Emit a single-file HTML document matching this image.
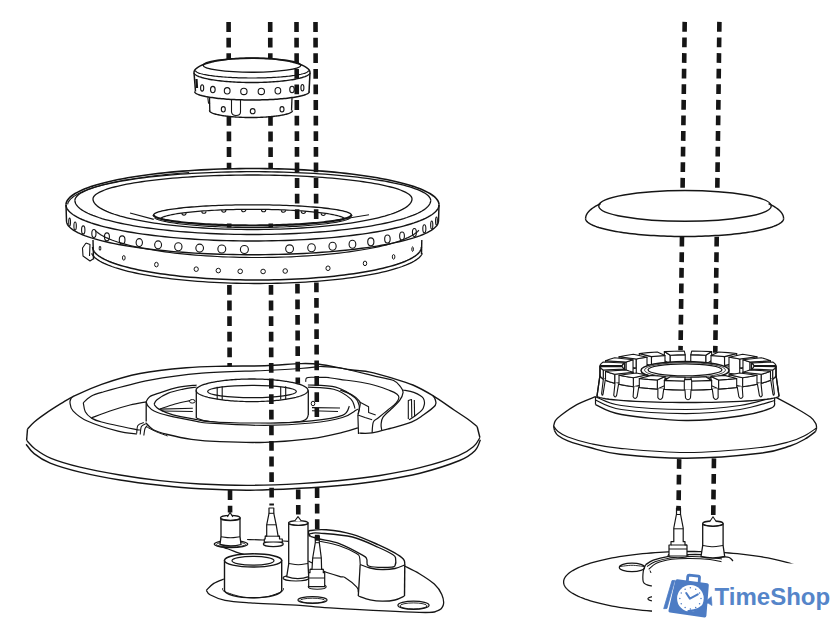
<!DOCTYPE html>
<html><head><meta charset="utf-8"><style>
html,body{margin:0;padding:0;background:#fff;}
body{width:840px;height:637px;overflow:hidden;position:relative;}
svg{position:absolute;left:0;top:0;}
.logo{position:absolute;font-family:"Liberation Sans",sans-serif;}
</style></head><body>
<svg width="840" height="637" viewBox="0 0 840 637" stroke-linecap="butt">
<path d="M194.00,72.50 L194.04,71.99 L194.14,71.49 L194.32,70.98 L194.56,70.48 L194.88,69.98 L195.27,69.49 L195.72,68.99 L196.25,68.50 L196.84,68.02 L197.50,67.54 L198.22,67.07 L199.01,66.60 L199.87,66.14 L200.79,65.69 L201.77,65.25 L202.81,64.82 L203.92,64.39 L205.08,63.98 L206.30,63.57 L207.57,63.18 L208.90,62.80 L210.28,62.43 L211.71,62.07 L213.19,61.72 L214.72,61.39 L216.29,61.07 L217.91,60.77 L219.57,60.48 L221.26,60.20 L223.00,59.94 L224.77,59.70 L226.57,59.47 L228.41,59.25 L230.27,59.06 L232.16,58.87 L234.08,58.71 L236.01,58.56 L237.97,58.43 L239.94,58.32 L241.93,58.22 L243.93,58.14 L245.94,58.08 L247.95,58.04 L249.98,58.01 L252.00,58.00 L254.02,58.01 L256.05,58.04 L258.06,58.08 L260.07,58.14 L262.07,58.22 L264.06,58.32 L266.03,58.43 L267.99,58.56 L269.92,58.71 L271.84,58.87 L273.73,59.06 L275.59,59.25 L277.43,59.47 L279.23,59.70 L281.00,59.94 L282.74,60.20 L284.43,60.48 L286.09,60.77 L287.71,61.07 L289.28,61.39 L290.81,61.72 L292.29,62.07 L293.72,62.43 L295.10,62.80 L296.43,63.18 L297.70,63.57 L298.92,63.98 L300.08,64.39 L301.19,64.82 L302.23,65.25 L303.21,65.69 L304.13,66.14 L304.99,66.60 L305.78,67.07 L306.50,67.54 L307.16,68.02 L307.75,68.50 L308.28,68.99 L308.73,69.49 L309.12,69.98 L309.44,70.48 L309.68,70.98 L309.86,71.49 L309.96,71.99 L310.00,72.50 L310.00,72.50 L309.00,92.00 L309.30,91.50 L309.27,91.80 L309.16,92.09 L308.99,92.39 L308.74,92.68 L308.43,92.98 L308.05,93.27 L307.60,93.56 L307.08,93.84 L306.50,94.13 L305.84,94.41 L305.13,94.68 L304.35,94.96 L303.50,95.23 L302.59,95.49 L301.62,95.75 L300.59,96.00 L299.50,96.25 L298.36,96.50 L297.15,96.73 L295.89,96.96 L294.58,97.19 L293.22,97.40 L291.80,97.61 L290.34,97.82 L288.83,98.01 L287.28,98.20 L285.68,98.38 L284.04,98.55 L282.36,98.71 L280.65,98.86 L278.90,99.01 L277.12,99.14 L275.31,99.27 L273.46,99.38 L271.60,99.49 L269.71,99.58 L267.79,99.67 L265.86,99.75 L263.91,99.81 L261.95,99.87 L259.97,99.92 L257.99,99.95 L256.00,99.98 L254.00,99.99 L252.00,100.00 L250.00,99.99 L248.00,99.98 L246.01,99.95 L244.03,99.92 L242.05,99.87 L240.09,99.81 L238.14,99.75 L236.21,99.67 L234.29,99.58 L232.40,99.49 L230.54,99.38 L228.69,99.27 L226.88,99.14 L225.10,99.01 L223.35,98.86 L221.64,98.71 L219.96,98.55 L218.32,98.38 L216.72,98.20 L215.17,98.01 L213.66,97.82 L212.20,97.61 L210.78,97.40 L209.42,97.19 L208.11,96.96 L206.85,96.73 L205.64,96.50 L204.50,96.25 L203.41,96.00 L202.38,95.75 L201.41,95.49 L200.50,95.23 L199.65,94.96 L198.87,94.68 L198.16,94.41 L197.50,94.13 L196.92,93.84 L196.40,93.56 L195.95,93.27 L195.57,92.98 L195.26,92.68 L195.01,92.39 L194.84,92.09 L194.73,91.80 L194.70,91.50 L195.50,91.50 L194.00,72.50 Z" fill="#fff" stroke="none"/>
<path d="M209.50,96.00 L292.00,96.00 L292.50,110.50 L292.47,110.74 L292.40,110.99 L292.27,111.23 L292.10,111.47 L291.87,111.72 L291.59,111.96 L291.27,112.19 L290.89,112.43 L290.47,112.66 L290.00,112.89 L289.48,113.12 L288.91,113.35 L288.30,113.57 L287.64,113.79 L286.94,114.00 L286.19,114.21 L285.41,114.41 L284.57,114.61 L283.70,114.81 L282.79,115.00 L281.84,115.18 L280.85,115.36 L279.83,115.54 L278.77,115.70 L277.68,115.86 L276.55,116.02 L275.39,116.16 L274.21,116.30 L272.99,116.44 L271.75,116.56 L270.48,116.68 L269.19,116.79 L267.88,116.89 L266.55,116.99 L265.19,117.08 L263.82,117.16 L262.44,117.23 L261.04,117.29 L259.63,117.35 L258.21,117.39 L256.78,117.43 L255.34,117.46 L253.89,117.48 L252.45,117.50 L251.00,117.50 L249.55,117.50 L248.11,117.48 L246.66,117.46 L245.22,117.43 L243.79,117.39 L242.37,117.35 L240.96,117.29 L239.56,117.23 L238.18,117.16 L236.81,117.08 L235.45,116.99 L234.12,116.89 L232.81,116.79 L231.52,116.68 L230.25,116.56 L229.01,116.44 L227.79,116.30 L226.61,116.16 L225.45,116.02 L224.32,115.86 L223.23,115.70 L222.17,115.54 L221.15,115.36 L220.16,115.18 L219.21,115.00 L218.30,114.81 L217.43,114.61 L216.59,114.41 L215.81,114.21 L215.06,114.00 L214.36,113.79 L213.70,113.57 L213.09,113.35 L212.52,113.12 L212.00,112.89 L211.53,112.66 L211.11,112.43 L210.73,112.19 L210.41,111.96 L210.13,111.72 L209.90,111.47 L209.73,111.23 L209.60,110.99 L209.53,110.74 L209.50,110.50 Z" fill="#fff" stroke="none"/>
<path d="M194.00,72.50 L194.04,71.99 L194.14,71.49 L194.32,70.98 L194.56,70.48 L194.88,69.98 L195.27,69.49 L195.72,68.99 L196.25,68.50 L196.84,68.02 L197.50,67.54 L198.22,67.07 L199.01,66.60 L199.87,66.14 L200.79,65.69 L201.77,65.25 L202.81,64.82 L203.92,64.39 L205.08,63.98 L206.30,63.57 L207.57,63.18 L208.90,62.80 L210.28,62.43 L211.71,62.07 L213.19,61.72 L214.72,61.39 L216.29,61.07 L217.91,60.77 L219.57,60.48 L221.26,60.20 L223.00,59.94 L224.77,59.70 L226.57,59.47 L228.41,59.25 L230.27,59.06 L232.16,58.87 L234.08,58.71 L236.01,58.56 L237.97,58.43 L239.94,58.32 L241.93,58.22 L243.93,58.14 L245.94,58.08 L247.95,58.04 L249.98,58.01 L252.00,58.00 L254.02,58.01 L256.05,58.04 L258.06,58.08 L260.07,58.14 L262.07,58.22 L264.06,58.32 L266.03,58.43 L267.99,58.56 L269.92,58.71 L271.84,58.87 L273.73,59.06 L275.59,59.25 L277.43,59.47 L279.23,59.70 L281.00,59.94 L282.74,60.20 L284.43,60.48 L286.09,60.77 L287.71,61.07 L289.28,61.39 L290.81,61.72 L292.29,62.07 L293.72,62.43 L295.10,62.80 L296.43,63.18 L297.70,63.57 L298.92,63.98 L300.08,64.39 L301.19,64.82 L302.23,65.25 L303.21,65.69 L304.13,66.14 L304.99,66.60 L305.78,67.07 L306.50,67.54 L307.16,68.02 L307.75,68.50 L308.28,68.99 L308.73,69.49 L309.12,69.98 L309.44,70.48 L309.68,70.98 L309.86,71.49 L309.96,71.99 L310.00,72.50" fill="none" stroke="#151515" stroke-width="1.5" />
<ellipse cx="252" cy="65.2" rx="48.8" ry="7" fill="none" stroke="#151515" stroke-width="1.4"/>
<path d="M308.50,70.50 L308.47,70.76 L308.36,71.02 L308.19,71.28 L307.95,71.54 L307.64,71.80 L307.27,72.06 L306.82,72.31 L306.31,72.57 L305.73,72.82 L305.09,73.07 L304.39,73.31 L303.62,73.55 L302.78,73.79 L301.89,74.02 L300.93,74.25 L299.91,74.47 L298.84,74.69 L297.71,74.91 L296.52,75.12 L295.28,75.32 L293.99,75.52 L292.64,75.71 L291.25,75.90 L289.81,76.07 L288.32,76.25 L286.78,76.41 L285.21,76.57 L283.59,76.72 L281.94,76.86 L280.25,77.00 L278.53,77.12 L276.77,77.24 L274.98,77.35 L273.17,77.45 L271.32,77.55 L269.46,77.63 L267.57,77.71 L265.67,77.78 L263.75,77.84 L261.81,77.89 L259.86,77.93 L257.91,77.96 L255.94,77.98 L253.97,78.00 L252.00,78.00 L250.03,78.00 L248.06,77.98 L246.09,77.96 L244.14,77.93 L242.19,77.89 L240.25,77.84 L238.33,77.78 L236.43,77.71 L234.54,77.63 L232.68,77.55 L230.83,77.45 L229.02,77.35 L227.23,77.24 L225.47,77.12 L223.75,77.00 L222.06,76.86 L220.41,76.72 L218.79,76.57 L217.22,76.41 L215.68,76.25 L214.19,76.07 L212.75,75.90 L211.36,75.71 L210.01,75.52 L208.72,75.32 L207.48,75.12 L206.29,74.91 L205.16,74.69 L204.09,74.47 L203.07,74.25 L202.11,74.02 L201.22,73.79 L200.38,73.55 L199.61,73.31 L198.91,73.07 L198.27,72.82 L197.69,72.57 L197.18,72.31 L196.73,72.06 L196.36,71.80 L196.05,71.54 L195.81,71.28 L195.64,71.02 L195.53,70.76 L195.50,70.50" fill="none" stroke="#151515" stroke-width="1.2" />
<path d="M310.00,72.50 L309.96,72.85 L309.86,73.20 L309.68,73.55 L309.44,73.89 L309.12,74.24 L308.73,74.58 L308.28,74.92 L307.75,75.26 L307.16,75.59 L306.50,75.92 L305.78,76.25 L304.99,76.57 L304.13,76.88 L303.21,77.19 L302.23,77.50 L301.19,77.80 L300.08,78.09 L298.92,78.38 L297.70,78.66 L296.43,78.93 L295.10,79.19 L293.72,79.45 L292.29,79.69 L290.81,79.93 L289.28,80.16 L287.71,80.38 L286.09,80.59 L284.43,80.79 L282.74,80.98 L281.00,81.16 L279.23,81.33 L277.43,81.49 L275.59,81.64 L273.73,81.77 L271.84,81.90 L269.92,82.01 L267.99,82.11 L266.03,82.20 L264.06,82.28 L262.07,82.35 L260.07,82.40 L258.06,82.45 L256.05,82.48 L254.02,82.49 L252.00,82.50 L249.98,82.49 L247.95,82.48 L245.94,82.45 L243.93,82.40 L241.93,82.35 L239.94,82.28 L237.97,82.20 L236.01,82.11 L234.08,82.01 L232.16,81.90 L230.27,81.77 L228.41,81.64 L226.57,81.49 L224.77,81.33 L223.00,81.16 L221.26,80.98 L219.57,80.79 L217.91,80.59 L216.29,80.38 L214.72,80.16 L213.19,79.93 L211.71,79.69 L210.28,79.45 L208.90,79.19 L207.57,78.93 L206.30,78.66 L205.08,78.38 L203.92,78.09 L202.81,77.80 L201.77,77.50 L200.79,77.19 L199.87,76.88 L199.01,76.57 L198.22,76.25 L197.50,75.92 L196.84,75.59 L196.25,75.26 L195.72,74.92 L195.27,74.58 L194.88,74.24 L194.56,73.89 L194.32,73.55 L194.14,73.20 L194.04,72.85 L194.00,72.50" fill="none" stroke="#151515" stroke-width="1.4" />
<line x1="194" y1="72.5" x2="195.5" y2="91.5" stroke="#151515" stroke-width="1.5"/>
<line x1="310" y1="72.5" x2="309" y2="92.5" stroke="#151515" stroke-width="1.5"/>
<line x1="196.5" y1="79" x2="197" y2="88" stroke="#151515" stroke-width="2.2"/>
<path d="M309.30,91.50 L309.27,91.80 L309.16,92.09 L308.99,92.39 L308.74,92.68 L308.43,92.98 L308.05,93.27 L307.60,93.56 L307.08,93.84 L306.50,94.13 L305.84,94.41 L305.13,94.68 L304.35,94.96 L303.50,95.23 L302.59,95.49 L301.62,95.75 L300.59,96.00 L299.50,96.25 L298.36,96.50 L297.15,96.73 L295.89,96.96 L294.58,97.19 L293.22,97.40 L291.80,97.61 L290.34,97.82 L288.83,98.01 L287.28,98.20 L285.68,98.38 L284.04,98.55 L282.36,98.71 L280.65,98.86 L278.90,99.01 L277.12,99.14 L275.31,99.27 L273.46,99.38 L271.60,99.49 L269.71,99.58 L267.79,99.67 L265.86,99.75 L263.91,99.81 L261.95,99.87 L259.97,99.92 L257.99,99.95 L256.00,99.98 L254.00,99.99 L252.00,100.00 L250.00,99.99 L248.00,99.98 L246.01,99.95 L244.03,99.92 L242.05,99.87 L240.09,99.81 L238.14,99.75 L236.21,99.67 L234.29,99.58 L232.40,99.49 L230.54,99.38 L228.69,99.27 L226.88,99.14 L225.10,99.01 L223.35,98.86 L221.64,98.71 L219.96,98.55 L218.32,98.38 L216.72,98.20 L215.17,98.01 L213.66,97.82 L212.20,97.61 L210.78,97.40 L209.42,97.19 L208.11,96.96 L206.85,96.73 L205.64,96.50 L204.50,96.25 L203.41,96.00 L202.38,95.75 L201.41,95.49 L200.50,95.23 L199.65,94.96 L198.87,94.68 L198.16,94.41 L197.50,94.13 L196.92,93.84 L196.40,93.56 L195.95,93.27 L195.57,92.98 L195.26,92.68 L195.01,92.39 L194.84,92.09 L194.73,91.80 L194.70,91.50" fill="none" stroke="#151515" stroke-width="1.5" />
<ellipse cx="202.15" cy="87.89" rx="1.55" ry="3.2" fill="none" stroke="#151515" stroke-width="1.1"/>
<ellipse cx="212.84" cy="89.59" rx="2.33" ry="3.2" fill="none" stroke="#151515" stroke-width="1.1"/>
<ellipse cx="227.19" cy="90.8" rx="2.88" ry="3.2" fill="none" stroke="#151515" stroke-width="1.1"/>
<ellipse cx="243.87" cy="91.43" rx="3.17" ry="3.2" fill="none" stroke="#151515" stroke-width="1.1"/>
<ellipse cx="261.31" cy="91.41" rx="3.16" ry="3.2" fill="none" stroke="#151515" stroke-width="1.1"/>
<ellipse cx="277.88" cy="90.74" rx="2.85" ry="3.2" fill="none" stroke="#151515" stroke-width="1.1"/>
<ellipse cx="292.02" cy="89.48" rx="2.28" ry="3.2" fill="none" stroke="#151515" stroke-width="1.1"/>
<ellipse cx="302.42" cy="87.76" rx="1.49" ry="3.2" fill="none" stroke="#151515" stroke-width="1.1"/>
<line x1="209.5" y1="98" x2="209.8" y2="111.5" stroke="#151515" stroke-width="1.3"/>
<line x1="292" y1="98" x2="291.5" y2="110.5" stroke="#151515" stroke-width="1.3"/>
<path d="M292.50,110.50 L292.47,110.74 L292.40,110.99 L292.27,111.23 L292.10,111.47 L291.87,111.72 L291.59,111.96 L291.27,112.19 L290.89,112.43 L290.47,112.66 L290.00,112.89 L289.48,113.12 L288.91,113.35 L288.30,113.57 L287.64,113.79 L286.94,114.00 L286.19,114.21 L285.41,114.41 L284.57,114.61 L283.70,114.81 L282.79,115.00 L281.84,115.18 L280.85,115.36 L279.83,115.54 L278.77,115.70 L277.68,115.86 L276.55,116.02 L275.39,116.16 L274.21,116.30 L272.99,116.44 L271.75,116.56 L270.48,116.68 L269.19,116.79 L267.88,116.89 L266.55,116.99 L265.19,117.08 L263.82,117.16 L262.44,117.23 L261.04,117.29 L259.63,117.35 L258.21,117.39 L256.78,117.43 L255.34,117.46 L253.89,117.48 L252.45,117.50 L251.00,117.50 L249.55,117.50 L248.11,117.48 L246.66,117.46 L245.22,117.43 L243.79,117.39 L242.37,117.35 L240.96,117.29 L239.56,117.23 L238.18,117.16 L236.81,117.08 L235.45,116.99 L234.12,116.89 L232.81,116.79 L231.52,116.68 L230.25,116.56 L229.01,116.44 L227.79,116.30 L226.61,116.16 L225.45,116.02 L224.32,115.86 L223.23,115.70 L222.17,115.54 L221.15,115.36 L220.16,115.18 L219.21,115.00 L218.30,114.81 L217.43,114.61 L216.59,114.41 L215.81,114.21 L215.06,114.00 L214.36,113.79 L213.70,113.57 L213.09,113.35 L212.52,113.12 L212.00,112.89 L211.53,112.66 L211.11,112.43 L210.73,112.19 L210.41,111.96 L210.13,111.72 L209.90,111.47 L209.73,111.23 L209.60,110.99 L209.53,110.74 L209.50,110.50" fill="none" stroke="#151515" stroke-width="1.4" />
<ellipse cx="223.3" cy="109.3" rx="2" ry="2.7" fill="none" stroke="#151515" stroke-width="1.1"/>
<ellipse cx="252.7" cy="111.2" rx="2.4" ry="2.6" fill="none" stroke="#151515" stroke-width="1.1"/>
<ellipse cx="282" cy="109.3" rx="2" ry="2.7" fill="none" stroke="#151515" stroke-width="1.1"/>
<path d="M231.5,100 L231.5,112 Q232,115.5 236,115.5 Q240.5,115.5 240.5,112 L240.5,100" fill="none" stroke="#151515" stroke-width="1.1" stroke-linejoin="round" />
<path d="M207.8,97.5 L208.5,103 L210,104" fill="none" stroke="#151515" stroke-width="1.1" stroke-linejoin="round" />
<path d="M66.00,204.75 L66.11,203.48 L66.45,202.22 L67.02,200.96 L67.82,199.70 L68.83,198.46 L70.08,197.21 L71.54,195.98 L73.22,194.76 L75.13,193.55 L77.25,192.35 L79.58,191.17 L82.12,190.01 L84.87,188.86 L87.83,187.73 L90.99,186.62 L94.34,185.54 L97.88,184.48 L101.62,183.44 L105.54,182.43 L109.63,181.45 L113.90,180.49 L118.34,179.57 L122.95,178.67 L127.71,177.81 L132.62,176.98 L137.68,176.18 L142.88,175.42 L148.21,174.70 L153.67,174.01 L159.25,173.36 L164.94,172.74 L170.74,172.17 L176.64,171.63 L182.64,171.14 L188.71,170.69 L194.87,170.27 L201.09,169.90 L207.38,169.58 L213.72,169.29 L220.11,169.05 L226.54,168.85 L233.01,168.70 L239.49,168.59 L245.99,168.52 L252.50,168.50 L259.01,168.52 L265.51,168.59 L271.99,168.70 L278.46,168.85 L284.89,169.05 L291.28,169.29 L297.62,169.58 L303.91,169.90 L310.13,170.27 L316.29,170.69 L322.36,171.14 L328.36,171.63 L334.26,172.17 L340.06,172.74 L345.75,173.36 L351.33,174.01 L356.79,174.70 L362.12,175.42 L367.32,176.18 L372.38,176.98 L377.29,177.81 L382.05,178.67 L386.66,179.57 L391.10,180.49 L395.37,181.45 L399.46,182.43 L403.38,183.44 L407.12,184.48 L410.66,185.54 L414.01,186.62 L417.17,187.73 L420.13,188.86 L422.88,190.01 L425.42,191.17 L427.75,192.35 L429.87,193.55 L431.78,194.76 L433.46,195.98 L434.92,197.21 L436.17,198.46 L437.18,199.70 L437.98,200.96 L438.55,202.22 L438.89,203.48 L439.00,204.75 L439.00,205.00 L439.00,221.00 L438.50,221.00 L438.39,222.18 L438.05,223.35 L437.48,224.53 L436.69,225.70 L435.67,226.86 L434.44,228.02 L432.98,229.16 L431.29,230.30 L429.40,231.43 L427.28,232.54 L424.96,233.64 L422.42,234.73 L419.68,235.80 L416.73,236.84 L413.58,237.88 L410.24,238.88 L406.70,239.87 L402.98,240.84 L399.07,241.78 L394.98,242.69 L390.72,243.58 L386.30,244.44 L381.71,245.28 L376.96,246.08 L372.06,246.85 L367.01,247.60 L361.83,248.30 L356.51,248.98 L351.06,249.62 L345.50,250.23 L339.82,250.80 L334.04,251.33 L328.15,251.83 L322.18,252.29 L316.12,252.71 L309.98,253.10 L303.77,253.44 L297.50,253.75 L291.17,254.01 L284.80,254.24 L278.39,254.42 L271.94,254.57 L265.47,254.67 L258.99,254.73 L252.50,254.75 L421.40,247.00 L421.30,248.15 L421.00,249.30 L420.50,250.45 L419.80,251.59 L418.90,252.73 L417.81,253.86 L416.52,254.98 L415.03,256.10 L413.35,257.20 L411.49,258.29 L409.43,259.36 L407.19,260.42 L404.76,261.47 L402.16,262.49 L399.37,263.50 L396.42,264.49 L393.29,265.45 L390.00,266.40 L386.55,267.32 L382.94,268.21 L379.17,269.08 L375.26,269.92 L371.20,270.74 L367.01,271.52 L362.67,272.28 L358.21,273.00 L353.63,273.70 L348.93,274.36 L344.12,274.99 L339.20,275.58 L334.18,276.14 L329.07,276.66 L323.87,277.15 L318.59,277.60 L313.23,278.01 L307.80,278.38 L302.31,278.72 L296.77,279.02 L291.18,279.28 L285.55,279.50 L279.88,279.68 L274.18,279.82 L268.47,279.92 L262.74,279.98 L257.00,280.00 L251.26,279.98 L245.53,279.92 L239.82,279.82 L234.12,279.68 L228.45,279.50 L222.82,279.28 L217.23,279.02 L211.69,278.72 L206.20,278.38 L200.77,278.01 L195.41,277.60 L190.13,277.15 L184.93,276.66 L179.82,276.14 L174.80,275.58 L169.88,274.99 L165.07,274.36 L160.37,273.70 L155.79,273.00 L151.33,272.28 L146.99,271.52 L142.80,270.74 L138.74,269.92 L134.83,269.08 L131.06,268.21 L127.45,267.32 L124.00,266.40 L120.71,265.45 L117.58,264.49 L114.63,263.50 L111.84,262.49 L109.24,261.47 L106.81,260.42 L104.57,259.36 L102.51,258.29 L100.65,257.20 L98.97,256.10 L97.48,254.98 L96.19,253.86 L95.10,252.73 L94.20,251.59 L93.50,250.45 L93.00,249.30 L92.70,248.15 L92.60,247.00 L252.50,254.75 L246.01,254.73 L239.53,254.67 L233.06,254.57 L226.61,254.42 L220.20,254.24 L213.83,254.01 L207.50,253.75 L201.23,253.44 L195.02,253.10 L188.88,252.71 L182.82,252.29 L176.85,251.83 L170.96,251.33 L165.18,250.80 L159.50,250.23 L153.94,249.62 L148.49,248.98 L143.17,248.30 L137.99,247.60 L132.94,246.85 L128.04,246.08 L123.29,245.28 L118.70,244.44 L114.28,243.58 L110.02,242.69 L105.93,241.78 L102.02,240.84 L98.30,239.87 L94.76,238.88 L91.42,237.88 L88.27,236.84 L85.32,235.80 L82.58,234.73 L80.04,233.64 L77.72,232.54 L75.60,231.43 L73.71,230.30 L72.02,229.16 L70.56,228.02 L69.33,226.86 L68.31,225.70 L67.52,224.53 L66.95,223.35 L66.61,222.18 L66.50,221.00 L66.00,221.00 Z" fill="#fff" stroke="none"/>
<path d="M66.00,204.75 L66.11,203.48 L66.45,202.22 L67.02,200.96 L67.82,199.70 L68.83,198.46 L70.08,197.21 L71.54,195.98 L73.22,194.76 L75.13,193.55 L77.25,192.35 L79.58,191.17 L82.12,190.01 L84.87,188.86 L87.83,187.73 L90.99,186.62 L94.34,185.54 L97.88,184.48 L101.62,183.44 L105.54,182.43 L109.63,181.45 L113.90,180.49 L118.34,179.57 L122.95,178.67 L127.71,177.81 L132.62,176.98 L137.68,176.18 L142.88,175.42 L148.21,174.70 L153.67,174.01 L159.25,173.36 L164.94,172.74 L170.74,172.17 L176.64,171.63 L182.64,171.14 L188.71,170.69 L194.87,170.27 L201.09,169.90 L207.38,169.58 L213.72,169.29 L220.11,169.05 L226.54,168.85 L233.01,168.70 L239.49,168.59 L245.99,168.52 L252.50,168.50 L259.01,168.52 L265.51,168.59 L271.99,168.70 L278.46,168.85 L284.89,169.05 L291.28,169.29 L297.62,169.58 L303.91,169.90 L310.13,170.27 L316.29,170.69 L322.36,171.14 L328.36,171.63 L334.26,172.17 L340.06,172.74 L345.75,173.36 L351.33,174.01 L356.79,174.70 L362.12,175.42 L367.32,176.18 L372.38,176.98 L377.29,177.81 L382.05,178.67 L386.66,179.57 L391.10,180.49 L395.37,181.45 L399.46,182.43 L403.38,183.44 L407.12,184.48 L410.66,185.54 L414.01,186.62 L417.17,187.73 L420.13,188.86 L422.88,190.01 L425.42,191.17 L427.75,192.35 L429.87,193.55 L431.78,194.76 L433.46,195.98 L434.92,197.21 L436.17,198.46 L437.18,199.70 L437.98,200.96 L438.55,202.22 L438.89,203.48 L439.00,204.75" fill="none" stroke="#151515" stroke-width="1.6" />
<path d="M439.00,204.75 L438.89,206.02 L438.55,207.28 L437.98,208.54 L437.18,209.80 L436.17,211.04 L434.92,212.29 L433.46,213.52 L431.78,214.74 L429.87,215.95 L427.75,217.15 L425.42,218.33 L422.88,219.49 L420.13,220.64 L417.17,221.77 L414.01,222.88 L410.66,223.96 L407.12,225.02 L403.38,226.06 L399.46,227.07 L395.37,228.05 L391.10,229.01 L386.66,229.93 L382.05,230.83 L377.29,231.69 L372.38,232.52 L367.32,233.32 L362.12,234.08 L356.79,234.80 L351.33,235.49 L345.75,236.14 L340.06,236.76 L334.26,237.33 L328.36,237.87 L322.36,238.36 L316.29,238.81 L310.13,239.23 L303.91,239.60 L297.62,239.92 L291.28,240.21 L284.89,240.45 L278.46,240.65 L271.99,240.80 L265.51,240.91 L259.01,240.98 L252.50,241.00 L245.99,240.98 L239.49,240.91 L233.01,240.80 L226.54,240.65 L220.11,240.45 L213.72,240.21 L207.38,239.92 L201.09,239.60 L194.87,239.23 L188.71,238.81 L182.64,238.36 L176.64,237.87 L170.74,237.33 L164.94,236.76 L159.25,236.14 L153.67,235.49 L148.21,234.80 L142.88,234.08 L137.68,233.32 L132.62,232.52 L127.71,231.69 L122.95,230.83 L118.34,229.93 L113.90,229.01 L109.63,228.05 L105.54,227.07 L101.62,226.06 L97.88,225.02 L94.34,223.96 L90.99,222.88 L87.83,221.77 L84.87,220.64 L82.12,219.49 L79.58,218.33 L77.25,217.15 L75.13,215.95 L73.22,214.74 L71.54,213.52 L70.08,212.29 L68.83,211.04 L67.82,209.80 L67.02,208.54 L66.45,207.28 L66.11,206.02 L66.00,204.75" fill="none" stroke="#151515" stroke-width="1.4" />
<path d="M67.61,204.28 L67.95,203.06 L68.51,201.84 L69.30,200.63 L70.31,199.42 L71.54,198.22 L73.00,197.03 L74.67,195.85 L76.55,194.68 L78.66,193.53 L80.97,192.39 L83.49,191.26 L86.22,190.16 L89.15,189.07 L92.29,188.00 L95.61,186.95 L99.13,185.93 L102.83,184.93 L106.72,183.95 L110.78,183.00 L115.02,182.08 L119.42,181.19 L123.99,180.32 L128.71,179.49 L133.58,178.69 L138.60,177.92 L143.76,177.18 L149.05,176.48 L154.46,175.82 L160.00,175.19 L165.65,174.60 L171.40,174.04 L177.25,173.53 L183.20,173.05 L189.23,172.61" fill="none" stroke="#151515" stroke-width="1.1" />
<path d="M74.90,200.50 L75.01,199.49 L75.33,198.49 L75.87,197.49 L76.63,196.49 L77.60,195.50 L78.79,194.51 L80.18,193.53 L81.79,192.56 L83.61,191.60 L85.63,190.65 L87.85,189.71 L90.28,188.79 L92.90,187.87 L95.72,186.98 L98.73,186.10 L101.93,185.24 L105.31,184.40 L108.88,183.57 L112.61,182.77 L116.52,181.99 L120.59,181.23 L124.83,180.49 L129.22,179.78 L133.76,179.10 L138.45,178.44 L143.27,177.81 L148.23,177.20 L153.32,176.62 L158.53,176.08 L163.85,175.56 L169.28,175.07 L174.81,174.61 L180.44,174.19 L186.16,173.80 L191.95,173.44 L197.83,173.11 L203.76,172.82 L209.76,172.56 L215.81,172.33 L221.91,172.14 L228.04,171.98 L234.20,171.86 L240.39,171.77 L246.59,171.72 L252.80,171.70 L259.01,171.72 L265.21,171.77 L271.40,171.86 L277.56,171.98 L283.69,172.14 L289.79,172.33 L295.84,172.56 L301.84,172.82 L307.77,173.11 L313.65,173.44 L319.44,173.80 L325.16,174.19 L330.79,174.61 L336.32,175.07 L341.75,175.56 L347.07,176.08 L352.28,176.62 L357.37,177.20 L362.33,177.81 L367.15,178.44 L371.84,179.10 L376.38,179.78 L380.77,180.49 L385.01,181.23 L389.08,181.99 L392.99,182.77 L396.72,183.57 L400.29,184.40 L403.67,185.24 L406.87,186.10 L409.88,186.98 L412.70,187.87 L415.32,188.79 L417.75,189.71 L419.97,190.65 L421.99,191.60 L423.81,192.56 L425.42,193.53 L426.81,194.51 L428.00,195.50 L428.97,196.49 L429.73,197.49 L430.27,198.49 L430.59,199.49 L430.70,200.50" fill="none" stroke="#151515" stroke-width="1.3" />
<path d="M430.70,200.50 L430.59,201.69 L430.27,202.87 L429.73,204.05 L428.97,205.23 L428.00,206.40 L426.81,207.57 L425.42,208.73 L423.81,209.87 L421.99,211.01 L419.97,212.13 L417.75,213.24 L415.32,214.33 L412.70,215.40 L409.88,216.46 L406.87,217.50 L403.67,218.52 L400.29,219.51 L396.72,220.48 L392.99,221.43 L389.08,222.35 L385.01,223.25 L380.77,224.12 L376.38,224.96 L371.84,225.77 L367.15,226.55 L362.33,227.29 L357.37,228.01 L352.28,228.69 L347.07,229.33 L341.75,229.94 L336.32,230.52 L330.79,231.06 L325.16,231.56 L319.44,232.02 L313.65,232.45 L307.77,232.84 L301.84,233.18 L295.84,233.49 L289.79,233.76 L283.69,233.98 L277.56,234.17 L271.40,234.31 L265.21,234.42 L259.01,234.48 L252.80,234.50 L246.59,234.48 L240.39,234.42 L234.20,234.31 L228.04,234.17 L221.91,233.98 L215.81,233.76 L209.76,233.49 L203.76,233.18 L197.83,232.84 L191.95,232.45 L186.16,232.02 L180.44,231.56 L174.81,231.06 L169.28,230.52 L163.85,229.94 L158.53,229.33 L153.32,228.69 L148.23,228.01 L143.27,227.29 L138.45,226.55 L133.76,225.77 L129.22,224.96 L124.83,224.12 L120.59,223.25 L116.52,222.35 L112.61,221.43 L108.88,220.48 L105.31,219.51 L101.93,218.52 L98.73,217.50 L95.72,216.46 L92.90,215.40 L90.28,214.33 L87.85,213.24 L85.63,212.13 L83.61,211.01 L81.79,209.87 L80.18,208.73 L78.79,207.57 L77.60,206.40 L76.63,205.23 L75.87,204.05 L75.33,202.87 L75.01,201.69 L74.90,200.50" fill="none" stroke="#151515" stroke-width="1.3" />
<path d="M93.00,199.00 L93.10,198.16 L93.39,197.33 L93.87,196.49 L94.55,195.66 L95.42,194.83 L96.49,194.01 L97.74,193.19 L99.18,192.38 L100.81,191.58 L102.62,190.79 L104.61,190.01 L106.79,189.24 L109.14,188.48 L111.67,187.73 L114.37,187.00 L117.24,186.28 L120.27,185.58 L123.46,184.89 L126.81,184.22 L130.32,183.57 L133.97,182.94 L137.77,182.33 L141.70,181.74 L145.77,181.16 L149.98,180.61 L154.30,180.09 L158.75,179.58 L163.31,179.10 L167.98,178.65 L172.75,178.22 L177.62,177.81 L182.58,177.43 L187.63,177.07 L192.75,176.75 L197.95,176.45 L203.21,176.17 L208.54,175.93 L213.91,175.71 L219.34,175.52 L224.80,175.36 L230.30,175.23 L235.83,175.13 L241.37,175.06 L246.93,175.01 L252.50,175.00 L258.07,175.01 L263.63,175.06 L269.17,175.13 L274.70,175.23 L280.20,175.36 L285.66,175.52 L291.09,175.71 L296.46,175.93 L301.79,176.17 L307.05,176.45 L312.25,176.75 L317.37,177.07 L322.42,177.43 L327.38,177.81 L332.25,178.22 L337.02,178.65 L341.69,179.10 L346.25,179.58 L350.70,180.09 L355.02,180.61 L359.23,181.16 L363.30,181.74 L367.23,182.33 L371.03,182.94 L374.68,183.57 L378.19,184.22 L381.54,184.89 L384.73,185.58 L387.76,186.28 L390.63,187.00 L393.33,187.73 L395.86,188.48 L398.21,189.24 L400.39,190.01 L402.38,190.79 L404.19,191.58 L405.82,192.38 L407.26,193.19 L408.51,194.01 L409.58,194.83 L410.45,195.66 L411.13,196.49 L411.61,197.33 L411.90,198.16 L412.00,199.00" fill="none" stroke="#151515" stroke-width="1.3" />
<path d="M412.00,199.00 L411.90,200.06 L411.61,201.13 L411.13,202.19 L410.45,203.24 L409.58,204.30 L408.51,205.34 L407.26,206.38 L405.82,207.41 L404.19,208.43 L402.38,209.43 L400.39,210.43 L398.21,211.41 L395.86,212.37 L393.33,213.32 L390.63,214.25 L387.76,215.16 L384.73,216.06 L381.54,216.93 L378.19,217.78 L374.68,218.61 L371.03,219.41 L367.23,220.19 L363.30,220.94 L359.23,221.67 L355.02,222.36 L350.70,223.03 L346.25,223.68 L341.69,224.29 L337.02,224.87 L332.25,225.41 L327.38,225.93 L322.42,226.41 L317.37,226.86 L312.25,227.28 L307.05,227.66 L301.79,228.01 L296.46,228.32 L291.09,228.59 L285.66,228.83 L280.20,229.04 L274.70,229.20 L269.17,229.33 L263.63,229.43 L258.07,229.48 L252.50,229.50 L246.93,229.48 L241.37,229.43 L235.83,229.33 L230.30,229.20 L224.80,229.04 L219.34,228.83 L213.91,228.59 L208.54,228.32 L203.21,228.01 L197.95,227.66 L192.75,227.28 L187.63,226.86 L182.58,226.41 L177.62,225.93 L172.75,225.41 L167.98,224.87 L163.31,224.29 L158.75,223.68 L154.30,223.03 L149.98,222.36 L145.77,221.67 L141.70,220.94 L137.77,220.19 L133.97,219.41 L130.32,218.61 L126.81,217.78 L123.46,216.93 L120.27,216.06 L117.24,215.16 L114.37,214.25 L111.67,213.32 L109.14,212.37 L106.79,211.41 L104.61,210.43 L102.62,209.43 L100.81,208.43 L99.18,207.41 L97.74,206.38 L96.49,205.34 L95.42,204.30 L94.55,203.24 L93.87,202.19 L93.39,201.13 L93.10,200.06 L93.00,199.00" fill="none" stroke="#151515" stroke-width="1.3" />
<path d="M153.50,215.20 L153.56,214.84 L153.74,214.47 L154.04,214.11 L154.46,213.75 L155.00,213.39 L155.66,213.04 L156.44,212.68 L157.34,212.33 L158.35,211.99 L159.47,211.64 L160.71,211.30 L162.06,210.97 L163.52,210.64 L165.09,210.32 L166.76,210.00 L168.54,209.69 L170.43,209.38 L172.41,209.09 L174.49,208.80 L176.66,208.52 L178.93,208.24 L181.29,207.98 L183.73,207.72 L186.26,207.47 L188.86,207.23 L191.55,207.00 L194.31,206.79 L197.14,206.58 L200.04,206.38 L203.00,206.19 L206.02,206.02 L209.10,205.85 L212.23,205.70 L215.41,205.56 L218.64,205.43 L221.91,205.31 L225.21,205.20 L228.55,205.11 L231.92,205.03 L235.31,204.96 L238.72,204.90 L242.15,204.86 L245.59,204.83 L249.04,204.81 L252.50,204.80 L255.96,204.81 L259.41,204.83 L262.85,204.86 L266.28,204.90 L269.69,204.96 L273.08,205.03 L276.45,205.11 L279.79,205.20 L283.09,205.31 L286.36,205.43 L289.59,205.56 L292.77,205.70 L295.90,205.85 L298.98,206.02 L302.00,206.19 L304.96,206.38 L307.86,206.58 L310.69,206.79 L313.45,207.00 L316.14,207.23 L318.74,207.47 L321.27,207.72 L323.71,207.98 L326.07,208.24 L328.34,208.52 L330.51,208.80 L332.59,209.09 L334.57,209.38 L336.46,209.69 L338.24,210.00 L339.91,210.32 L341.48,210.64 L342.94,210.97 L344.29,211.30 L345.53,211.64 L346.65,211.99 L347.66,212.33 L348.56,212.68 L349.34,213.04 L350.00,213.39 L350.54,213.75 L350.96,214.11 L351.26,214.47 L351.44,214.84 L351.50,215.20" fill="none" stroke="#151515" stroke-width="1.3" />
<path d="M160.91,218.14 L161.53,217.78 L162.26,217.41 L163.10,217.05 L164.05,216.69 L165.11,216.34 L166.27,215.99 L167.54,215.65 L168.91,215.31 L170.39,214.98 L171.96,214.65 L173.63,214.33 L175.40,214.02 L177.26,213.71 L179.21,213.41 L181.26,213.12 L183.39,212.84 L185.60,212.57 L187.90,212.30 L190.27,212.05 L192.72,211.80 L195.24,211.57 L197.84,211.34 L200.50,211.13 L203.22,210.93 L206.00,210.73 L208.84,210.55 L211.73,210.38 L214.67,210.23 L217.66,210.08 L220.69,209.95 L223.76,209.82 L226.87,209.71 L230.00,209.62 L233.16,209.53 L236.35,209.46 L239.56,209.40 L242.78,209.36 L246.01,209.33 L249.25,209.31 L252.50,209.30 L255.75,209.31 L258.99,209.33 L262.22,209.36 L265.44,209.40 L268.65,209.46 L271.84,209.53 L275.00,209.62 L278.13,209.71 L281.24,209.82 L284.31,209.95 L287.34,210.08 L290.33,210.23 L293.27,210.38 L296.16,210.55 L299.00,210.73 L301.78,210.93 L304.50,211.13 L307.16,211.34 L309.76,211.57 L312.28,211.80 L314.73,212.05 L317.10,212.30 L319.40,212.57 L321.61,212.84 L323.74,213.12 L325.79,213.41 L327.74,213.71 L329.60,214.02 L331.37,214.33 L333.04,214.65 L334.61,214.98 L336.09,215.31 L337.46,215.65 L338.73,215.99 L339.89,216.34 L340.95,216.69 L341.90,217.05 L342.74,217.41 L343.47,217.78 L344.09,218.14" fill="none" stroke="#151515" stroke-width="1.2" />
<path d="M351.50,214.75 L351.44,215.13 L351.26,215.50 L350.96,215.87 L350.54,216.25 L350.00,216.62 L349.34,216.99 L348.56,217.35 L347.66,217.71 L346.65,218.07 L345.53,218.43 L344.29,218.78 L342.94,219.12 L341.48,219.46 L339.91,219.80 L338.24,220.12 L336.46,220.45 L334.57,220.76 L332.59,221.07 L330.51,221.37 L328.34,221.66 L326.07,221.94 L323.71,222.22 L321.27,222.48 L318.74,222.74 L316.14,222.98 L313.45,223.22 L310.69,223.45 L307.86,223.66 L304.96,223.87 L302.00,224.06 L298.98,224.24 L295.90,224.41 L292.77,224.57 L289.59,224.72 L286.36,224.85 L283.09,224.97 L279.79,225.08 L276.45,225.18 L273.08,225.27 L269.69,225.34 L266.28,225.40 L262.85,225.44 L259.41,225.47 L255.96,225.49 L252.50,225.50 L249.04,225.49 L245.59,225.47 L242.15,225.44 L238.72,225.40 L235.31,225.34 L231.92,225.27 L228.55,225.18 L225.21,225.08 L221.91,224.97 L218.64,224.85 L215.41,224.72 L212.23,224.57 L209.10,224.41 L206.02,224.24 L203.00,224.06 L200.04,223.87 L197.14,223.66 L194.31,223.45 L191.55,223.22 L188.86,222.98 L186.26,222.74 L183.73,222.48 L181.29,222.22 L178.93,221.94 L176.66,221.66 L174.49,221.37 L172.41,221.07 L170.43,220.76 L168.54,220.45 L166.76,220.12 L165.09,219.80 L163.52,219.46 L162.06,219.12 L160.71,218.78 L159.47,218.43 L158.35,218.07 L157.34,217.71 L156.44,217.35 L155.66,216.99 L155.00,216.62 L154.46,216.25 L154.04,215.87 L153.74,215.50 L153.56,215.13 L153.50,214.75" fill="none" stroke="#151515" stroke-width="2.2" />
<path d="M350.49,218.00 L349.83,218.39 L349.04,218.78 L348.15,219.17 L347.13,219.55 L346.00,219.93 L344.75,220.31 L343.40,220.68 L341.93,221.04 L340.35,221.40 L338.67,221.75 L336.88,222.09 L334.99,222.43 L333.00,222.76 L330.91,223.08 L328.72,223.39 L326.44,223.70 L324.07,223.99 L321.62,224.27 L319.08,224.55 L316.46,224.81 L313.76,225.06 L310.98,225.30 L308.14,225.53 L305.23,225.75 L302.25,225.96 L299.21,226.15 L296.12,226.34 L292.97,226.51 L289.77,226.66 L286.53,226.81 L283.25,226.94 L279.93,227.05 L276.57,227.16 L273.19,227.25 L269.78,227.33 L266.35,227.39 L262.90,227.44 L259.44,227.47 L255.97,227.49 L252.50,227.50 L249.03,227.49 L245.56,227.47 L242.10,227.44 L238.65,227.39 L235.22,227.33 L231.81,227.25 L228.43,227.16 L225.07,227.05 L221.75,226.94 L218.47,226.81 L215.23,226.66 L212.03,226.51 L208.88,226.34 L205.79,226.15 L202.75,225.96 L199.77,225.75 L196.86,225.53 L194.02,225.30 L191.24,225.06 L188.54,224.81 L185.92,224.55 L183.38,224.27 L180.93,223.99 L178.56,223.70 L176.28,223.39 L174.09,223.08 L172.00,222.76 L170.01,222.43 L168.12,222.09 L166.33,221.75 L164.65,221.40 L163.07,221.04 L161.60,220.68 L160.25,220.31 L159.00,219.93 L157.87,219.55 L156.85,219.17 L155.96,218.78 L155.17,218.39 L154.51,218.00" fill="none" stroke="#151515" stroke-width="1.1" />
<path d="M181.90,213.06 A2.1,2.1 0 0 0 186.10,213.06" fill="none" stroke="#151515" stroke-width="1.1" stroke-linejoin="round" />
<path d="M201.80,211.18 A2.1,2.1 0 0 0 206.00,211.18" fill="none" stroke="#151515" stroke-width="1.1" stroke-linejoin="round" />
<path d="M221.70,210.12 A2.1,2.1 0 0 0 225.90,210.12" fill="none" stroke="#151515" stroke-width="1.1" stroke-linejoin="round" />
<path d="M241.60,209.65 A2.1,2.1 0 0 0 245.80,209.65" fill="none" stroke="#151515" stroke-width="1.1" stroke-linejoin="round" />
<path d="M261.50,209.68 A2.1,2.1 0 0 0 265.70,209.68" fill="none" stroke="#151515" stroke-width="1.1" stroke-linejoin="round" />
<path d="M281.40,210.21 A2.1,2.1 0 0 0 285.60,210.21" fill="none" stroke="#151515" stroke-width="1.1" stroke-linejoin="round" />
<path d="M301.30,211.34 A2.1,2.1 0 0 0 305.50,211.34" fill="none" stroke="#151515" stroke-width="1.1" stroke-linejoin="round" />
<path d="M321.20,213.36 A2.1,2.1 0 0 0 325.40,213.36" fill="none" stroke="#151515" stroke-width="1.1" stroke-linejoin="round" />
<line x1="130" y1="213" x2="153.8" y2="219.4" stroke="#151515" stroke-width="1.1"/>
<line x1="347.6" y1="218.3" x2="369" y2="214.8" stroke="#151515" stroke-width="1.1"/>
<line x1="66" y1="205" x2="66.5" y2="221" stroke="#151515" stroke-width="1.5"/>
<line x1="439" y1="205" x2="438.5" y2="221" stroke="#151515" stroke-width="1.5"/>
<path d="M438.50,221.00 L438.39,222.18 L438.05,223.35 L437.48,224.53 L436.69,225.70 L435.67,226.86 L434.44,228.02 L432.98,229.16 L431.29,230.30 L429.40,231.43 L427.28,232.54 L424.96,233.64 L422.42,234.73 L419.68,235.80 L416.73,236.84 L413.58,237.88 L410.24,238.88 L406.70,239.87 L402.98,240.84 L399.07,241.78 L394.98,242.69 L390.72,243.58 L386.30,244.44 L381.71,245.28 L376.96,246.08 L372.06,246.85 L367.01,247.60 L361.83,248.30 L356.51,248.98 L351.06,249.62 L345.50,250.23 L339.82,250.80 L334.04,251.33 L328.15,251.83 L322.18,252.29 L316.12,252.71 L309.98,253.10 L303.77,253.44 L297.50,253.75 L291.17,254.01 L284.80,254.24 L278.39,254.42 L271.94,254.57 L265.47,254.67 L258.99,254.73 L252.50,254.75 L246.01,254.73 L239.53,254.67 L233.06,254.57 L226.61,254.42 L220.20,254.24 L213.83,254.01 L207.50,253.75 L201.23,253.44 L195.02,253.10 L188.88,252.71 L182.82,252.29 L176.85,251.83 L170.96,251.33 L165.18,250.80 L159.50,250.23 L153.94,249.62 L148.49,248.98 L143.17,248.30 L137.99,247.60 L132.94,246.85 L128.04,246.08 L123.29,245.28 L118.70,244.44 L114.28,243.58 L110.02,242.69 L105.93,241.78 L102.02,240.84 L98.30,239.87 L94.76,238.88 L91.42,237.88 L88.27,236.84 L85.32,235.80 L82.58,234.73 L80.04,233.64 L77.72,232.54 L75.60,231.43 L73.71,230.30 L72.02,229.16 L70.56,228.02 L69.33,226.86 L68.31,225.70 L67.52,224.53 L66.95,223.35 L66.61,222.18 L66.50,221.00" fill="none" stroke="#151515" stroke-width="1.4" />
<ellipse cx="69.61" cy="222.1" rx="0.9" ry="4.0" fill="none" stroke="#151515" stroke-width="1.1"/>
<ellipse cx="75.11" cy="226.07" rx="1.2" ry="4.0" fill="none" stroke="#151515" stroke-width="1.1"/>
<ellipse cx="83.25" cy="229.89" rx="1.66" ry="4.0" fill="none" stroke="#151515" stroke-width="1.1"/>
<ellipse cx="93.91" cy="233.5" rx="2.09" ry="4.0" fill="none" stroke="#151515" stroke-width="1.1"/>
<ellipse cx="106.93" cy="236.85" rx="2.49" ry="4.0" fill="none" stroke="#151515" stroke-width="1.1"/>
<ellipse cx="122.13" cy="239.89" rx="2.85" ry="4.0" fill="none" stroke="#151515" stroke-width="1.1"/>
<ellipse cx="139.27" cy="242.58" rx="3.17" ry="4.0" fill="none" stroke="#151515" stroke-width="1.1"/>
<ellipse cx="158.1" cy="244.86" rx="3.45" ry="4.0" fill="none" stroke="#151515" stroke-width="1.1"/>
<ellipse cx="178.33" cy="246.72" rx="3.67" ry="4.0" fill="none" stroke="#151515" stroke-width="1.1"/>
<ellipse cx="199.67" cy="248.12" rx="3.84" ry="4.0" fill="none" stroke="#151515" stroke-width="1.1"/>
<ellipse cx="221.8" cy="249.04" rx="3.95" ry="4.0" fill="none" stroke="#151515" stroke-width="1.1"/>
<ellipse cx="244.39" cy="249.47" rx="4.0" ry="4.0" fill="none" stroke="#151515" stroke-width="1.1"/>
<ellipse cx="289.58" cy="248.83" rx="3.92" ry="4.0" fill="none" stroke="#151515" stroke-width="1.1"/>
<ellipse cx="311.52" cy="247.77" rx="3.79" ry="4.0" fill="none" stroke="#151515" stroke-width="1.1"/>
<ellipse cx="332.58" cy="246.24" rx="3.61" ry="4.0" fill="none" stroke="#151515" stroke-width="1.1"/>
<ellipse cx="352.44" cy="244.25" rx="3.37" ry="4.0" fill="none" stroke="#151515" stroke-width="1.1"/>
<ellipse cx="370.81" cy="241.85" rx="3.09" ry="4.0" fill="none" stroke="#151515" stroke-width="1.1"/>
<ellipse cx="387.42" cy="239.06" rx="2.75" ry="4.0" fill="none" stroke="#151515" stroke-width="1.1"/>
<ellipse cx="402.02" cy="235.93" rx="2.38" ry="4.0" fill="none" stroke="#151515" stroke-width="1.1"/>
<ellipse cx="414.39" cy="232.5" rx="1.97" ry="4.0" fill="none" stroke="#151515" stroke-width="1.1"/>
<ellipse cx="424.34" cy="228.82" rx="1.53" ry="4.0" fill="none" stroke="#151515" stroke-width="1.1"/>
<ellipse cx="431.74" cy="224.95" rx="1.07" ry="4.0" fill="none" stroke="#151515" stroke-width="1.1"/>
<ellipse cx="436.46" cy="220.95" rx="0.9" ry="4.0" fill="none" stroke="#151515" stroke-width="1.1"/>
<line x1="93" y1="240" x2="93.5" y2="259.5" stroke="#151515" stroke-width="1.4"/>
<line x1="421.8" y1="240" x2="421.5" y2="254" stroke="#151515" stroke-width="1.4"/>
<path d="M418.90,230.23 L417.81,231.36 L416.52,232.48 L415.03,233.60 L413.35,234.70 L411.49,235.79 L409.43,236.86 L407.19,237.92 L404.76,238.97 L402.16,239.99 L399.37,241.00 L396.42,241.99 L393.29,242.95 L390.00,243.90 L386.55,244.82 L382.94,245.71 L379.17,246.58 L375.26,247.42 L371.20,248.24 L367.01,249.02 L362.67,249.78 L358.21,250.50 L353.63,251.20 L348.93,251.86 L344.12,252.49 L339.20,253.08 L334.18,253.64 L329.07,254.16 L323.87,254.65 L318.59,255.10 L313.23,255.51 L307.80,255.88 L302.31,256.22 L296.77,256.52 L291.18,256.78 L285.55,257.00 L279.88,257.18 L274.18,257.32 L268.47,257.42 L262.74,257.48 L257.00,257.50 L251.26,257.48 L245.53,257.42 L239.82,257.32 L234.12,257.18 L228.45,257.00 L222.82,256.78 L217.23,256.52 L211.69,256.22 L206.20,255.88 L200.77,255.51 L195.41,255.10 L190.13,254.65 L184.93,254.16 L179.82,253.64 L174.80,253.08 L169.88,252.49 L165.07,251.86 L160.37,251.20 L155.79,250.50 L151.33,249.78 L146.99,249.02 L142.80,248.24 L138.74,247.42 L134.83,246.58 L131.06,245.71 L127.45,244.82 L124.00,243.90 L120.71,242.95 L117.58,241.99 L114.63,241.00 L111.84,239.99 L109.24,238.97 L106.81,237.92 L104.57,236.86 L102.51,235.79 L100.65,234.70 L98.97,233.60 L97.48,232.48 L96.19,231.36 L95.10,230.23" fill="none" stroke="#151515" stroke-width="1.2" />
<path d="M421.40,247.00 L421.30,248.15 L421.00,249.30 L420.50,250.45 L419.80,251.59 L418.90,252.73 L417.81,253.86 L416.52,254.98 L415.03,256.10 L413.35,257.20 L411.49,258.29 L409.43,259.36 L407.19,260.42 L404.76,261.47 L402.16,262.49 L399.37,263.50 L396.42,264.49 L393.29,265.45 L390.00,266.40 L386.55,267.32 L382.94,268.21 L379.17,269.08 L375.26,269.92 L371.20,270.74 L367.01,271.52 L362.67,272.28 L358.21,273.00 L353.63,273.70 L348.93,274.36 L344.12,274.99 L339.20,275.58 L334.18,276.14 L329.07,276.66 L323.87,277.15 L318.59,277.60 L313.23,278.01 L307.80,278.38 L302.31,278.72 L296.77,279.02 L291.18,279.28 L285.55,279.50 L279.88,279.68 L274.18,279.82 L268.47,279.92 L262.74,279.98 L257.00,280.00 L251.26,279.98 L245.53,279.92 L239.82,279.82 L234.12,279.68 L228.45,279.50 L222.82,279.28 L217.23,279.02 L211.69,278.72 L206.20,278.38 L200.77,278.01 L195.41,277.60 L190.13,277.15 L184.93,276.66 L179.82,276.14 L174.80,275.58 L169.88,274.99 L165.07,274.36 L160.37,273.70 L155.79,273.00 L151.33,272.28 L146.99,271.52 L142.80,270.74 L138.74,269.92 L134.83,269.08 L131.06,268.21 L127.45,267.32 L124.00,266.40 L120.71,265.45 L117.58,264.49 L114.63,263.50 L111.84,262.49 L109.24,261.47 L106.81,260.42 L104.57,259.36 L102.51,258.29 L100.65,257.20 L98.97,256.10 L97.48,254.98 L96.19,253.86 L95.10,252.73 L94.20,251.59 L93.50,250.45 L93.00,249.30 L92.70,248.15 L92.60,247.00" fill="none" stroke="#151515" stroke-width="1.5" />
<path d="M422.37,253.38 L421.76,254.52 L420.96,255.66 L419.95,256.80 L418.75,257.92 L417.34,259.04 L415.75,260.15 L413.96,261.24 L411.97,262.33 L409.80,263.39 L407.45,264.45 L404.91,265.48 L402.19,266.50 L399.29,267.50 L396.22,268.47 L392.98,269.43 L389.57,270.36 L386.01,271.27 L382.28,272.15 L378.40,273.01 L374.38,273.83 L370.21,274.63 L365.91,275.41 L361.47,276.15 L356.90,276.85 L352.21,277.53 L347.41,278.18 L342.50,278.79 L337.48,279.36 L332.36,279.90 L327.15,280.41 L321.86,280.88 L316.49,281.31 L311.04,281.70 L305.53,282.06 L299.96,282.38 L294.34,282.65 L288.67,282.89 L282.97,283.09 L277.23,283.25 L271.47,283.37 L265.69,283.45 L259.90,283.49 L254.10,283.49 L248.31,283.45 L242.53,283.37 L236.77,283.25 L231.03,283.09 L225.33,282.89 L219.66,282.65 L214.04,282.38 L208.47,282.06 L202.96,281.70 L197.51,281.31 L192.14,280.88 L186.85,280.41 L181.64,279.90 L176.52,279.36 L171.50,278.79 L166.59,278.18 L161.79,277.53 L157.10,276.85 L152.53,276.15 L148.09,275.41 L143.79,274.63 L139.62,273.83 L135.60,273.01 L131.72,272.15 L127.99,271.27 L124.43,270.36 L121.02,269.43 L117.78,268.47 L114.71,267.50 L111.81,266.50 L109.09,265.48 L106.55,264.45 L104.20,263.39 L102.03,262.33 L100.04,261.24 L98.25,260.15 L96.66,259.04 L95.25,257.92 L94.05,256.80 L93.04,255.66 L92.24,254.52 L91.63,253.38" fill="none" stroke="#151515" stroke-width="1.3" />
<ellipse cx="100" cy="248.29" rx="0.8" ry="2.3" fill="none" stroke="#151515" stroke-width="1.0"/>
<ellipse cx="123.8" cy="257.84" rx="1.35" ry="2.3" fill="none" stroke="#151515" stroke-width="1.0"/>
<ellipse cx="156.4" cy="264.6" rx="1.82" ry="2.3" fill="none" stroke="#151515" stroke-width="1.0"/>
<ellipse cx="196.2" cy="269.16" rx="2.14" ry="2.3" fill="none" stroke="#151515" stroke-width="1.0"/>
<ellipse cx="218.3" cy="270.57" rx="2.24" ry="2.3" fill="none" stroke="#151515" stroke-width="1.0"/>
<ellipse cx="240.2" cy="271.33" rx="2.29" ry="2.3" fill="none" stroke="#151515" stroke-width="1.0"/>
<ellipse cx="263.1" cy="271.48" rx="2.3" ry="2.3" fill="none" stroke="#151515" stroke-width="1.0"/>
<ellipse cx="285.2" cy="271.01" rx="2.27" ry="2.3" fill="none" stroke="#151515" stroke-width="1.0"/>
<ellipse cx="328" cy="268.26" rx="2.07" ry="2.3" fill="none" stroke="#151515" stroke-width="1.0"/>
<ellipse cx="365" cy="263.38" rx="1.73" ry="2.3" fill="none" stroke="#151515" stroke-width="1.0"/>
<ellipse cx="393.6" cy="256.86" rx="1.28" ry="2.3" fill="none" stroke="#151515" stroke-width="1.0"/>
<ellipse cx="412.6" cy="249.15" rx="0.8" ry="2.3" fill="none" stroke="#151515" stroke-width="1.0"/>
<path d="M86,243 L82.5,248 L83,256 L90,261 L93,259 M86,243 L90,244.5 L89.5,256" fill="none" stroke="#151515" stroke-width="1.1" stroke-linejoin="round" />
<path d="M27.50,429.10 L34.30,422.00 L46.50,412.90 L60.80,403.70 L73.00,396.50 L101.60,384.30 L140.00,373.50 L186.40,367.70 L223.60,366.20 L265.00,365.80 L300.60,363.60 L319.20,364.30 L350.10,369.70 L370.00,372.10 L391.40,377.90 L412.90,385.00 L432.90,395.70 L454.10,410.00 L467.30,418.80 L477.10,426.50 L479.90,437.50 L480.40,439.70 L480.40,439.70 L474.90,450.70 L459.60,460.50 L420.00,473.20 L380.00,480.70 L340.00,485.50 L300.00,488.30 L250.00,490.20 L200.00,488.80 L160.00,485.30 L120.00,480.00 L80.00,472.10 L50.20,463.10 L34.10,453.60 L26.10,444.20 Z" fill="#fff" stroke="none"/>
<path d="M27.50,429.10 C28.63,427.92 31.13,424.70 34.30,422.00 C37.47,419.30 42.08,415.95 46.50,412.90 C50.92,409.85 56.38,406.43 60.80,403.70 C65.22,400.97 70.97,397.70 73.00,396.50" fill="none" stroke="#151515" stroke-width="1.4" stroke-linejoin="round"/>
<path d="M73.00,396.50 C77.77,394.47 90.43,388.13 101.60,384.30 C112.77,380.47 125.87,376.27 140.00,373.50 C154.13,370.73 172.47,368.92 186.40,367.70 C200.33,366.48 210.50,366.52 223.60,366.20 C236.70,365.88 252.17,366.23 265.00,365.80 C277.83,365.37 291.57,363.85 300.60,363.60 C309.63,363.35 310.95,363.28 319.20,364.30 C327.45,365.32 341.63,368.40 350.10,369.70 C358.57,371.00 363.12,370.73 370.00,372.10 C376.88,373.47 384.25,375.75 391.40,377.90 C398.55,380.05 405.98,382.03 412.90,385.00 C419.82,387.97 426.03,391.53 432.90,395.70 C439.77,399.87 448.37,406.15 454.10,410.00 C459.83,413.85 463.47,416.05 467.30,418.80 C471.13,421.55 475.47,425.22 477.10,426.50" fill="none" stroke="#151515" stroke-width="1.4" stroke-linejoin="round"/>
<path d="M27.50,429.10 L26.60,440.40" fill="none" stroke="#151515" stroke-width="1.4" stroke-linejoin="round"/>
<path d="M477.10,426.50 L479.90,437.50" fill="none" stroke="#151515" stroke-width="1.4" stroke-linejoin="round"/>
<path d="M26.60,440.40 C28.02,441.82 31.02,445.90 35.10,448.90 C39.18,451.90 43.62,455.35 51.10,458.40 C58.58,461.45 68.52,464.43 80.00,467.20 C91.48,469.97 106.67,472.75 120.00,475.00 C133.33,477.25 146.67,479.20 160.00,480.70 C173.33,482.20 185.00,483.23 200.00,484.00 C215.00,484.77 233.33,485.37 250.00,485.30 C266.67,485.23 285.00,484.40 300.00,483.60 C315.00,482.80 326.67,481.85 340.00,480.50 C353.33,479.15 366.67,477.63 380.00,475.50 C393.33,473.37 406.92,471.02 420.00,467.70 C433.08,464.38 449.53,459.17 458.50,455.60 C467.47,452.03 470.23,449.32 473.80,446.30 C477.37,443.28 478.88,438.97 479.90,437.50" fill="none" stroke="#151515" stroke-width="1.3" stroke-linejoin="round"/>
<path d="M26.10,444.20 C27.43,445.77 30.08,450.45 34.10,453.60 C38.12,456.75 42.55,460.02 50.20,463.10 C57.85,466.18 68.37,469.28 80.00,472.10 C91.63,474.92 106.67,477.80 120.00,480.00 C133.33,482.20 146.67,483.83 160.00,485.30 C173.33,486.77 185.00,487.98 200.00,488.80 C215.00,489.62 233.33,490.28 250.00,490.20 C266.67,490.12 285.00,489.08 300.00,488.30 C315.00,487.52 326.67,486.77 340.00,485.50 C353.33,484.23 366.67,482.75 380.00,480.70 C393.33,478.65 406.73,476.57 420.00,473.20 C433.27,469.83 450.45,464.25 459.60,460.50 C468.75,456.75 471.43,454.17 474.90,450.70 C478.37,447.23 479.48,441.53 480.40,439.70" fill="none" stroke="#151515" stroke-width="1.4" stroke-linejoin="round"/>
<path d="M73.00,396.50 C72.67,396.85 71.50,397.57 71.00,398.60 C70.50,399.63 69.67,400.67 70.00,402.70 C70.33,404.73 70.12,407.75 73.00,410.80 C75.88,413.85 79.80,417.60 87.30,421.00 C94.80,424.40 109.72,429.03 118.00,431.20 C126.28,433.37 133.83,433.53 137.00,434.00" fill="none" stroke="#151515" stroke-width="1.2" stroke-linejoin="round"/>
<path d="M83.30,402.70 C84.42,401.75 86.95,398.72 90.00,397.00 C93.05,395.28 91.60,395.20 101.60,392.40 C111.60,389.60 133.28,383.40 150.00,380.20 C166.72,377.00 182.73,374.82 201.90,373.20 C221.07,371.58 248.65,371.28 265.00,370.50 C281.35,369.72 290.83,369.17 300.00,368.50 C309.17,367.83 316.67,366.83 320.00,366.50" fill="none" stroke="#151515" stroke-width="1.2" stroke-linejoin="round"/>
<path d="M83.30,402.70 C83.63,404.22 83.95,409.25 85.30,411.80 C86.65,414.35 88.68,416.30 91.40,418.00 C94.12,419.70 94.45,420.13 101.60,422.00 C108.75,423.87 127.90,427.87 134.30,429.20 C140.70,430.53 139.05,429.87 140.00,430.00" fill="none" stroke="#151515" stroke-width="1.2" stroke-linejoin="round"/>
<path d="M91.40,418.00 C94.50,416.83 103.57,413.17 110.00,411.00 C116.43,408.83 123.97,406.53 130.00,405.00 C136.03,403.47 143.50,402.33 146.20,401.80" fill="none" stroke="#151515" stroke-width="1.2" stroke-linejoin="round"/>
<path d="M146.20,401.80 L146.20,421.40" fill="none" stroke="#151515" stroke-width="1.3" stroke-linejoin="round"/>
<path d="M146.20,401.80 C146.73,400.98 147.28,398.35 149.40,396.90 C151.52,395.45 154.18,394.68 158.90,393.10 C163.62,391.52 171.42,388.73 177.70,387.40 C183.98,386.07 193.45,385.48 196.60,385.10" fill="none" stroke="#151515" stroke-width="1.2" stroke-linejoin="round"/>
<path d="M154.10,404.40 C154.58,403.62 154.63,401.58 157.00,399.70 C159.37,397.82 164.07,394.83 168.30,393.10 C172.53,391.37 177.68,390.32 182.40,389.30 C187.12,388.28 194.23,387.38 196.60,387.00" fill="none" stroke="#151515" stroke-width="1.2" stroke-linejoin="round"/>
<path d="M154.10,404.40 C154.90,405.18 155.75,407.37 158.90,409.10 C162.05,410.83 166.72,413.07 173.00,414.80 C179.28,416.53 190.43,418.38 196.60,419.50 C202.77,420.62 198.60,420.90 210.00,421.50 C221.40,422.10 248.10,423.22 265.00,423.10 C281.90,422.98 298.50,422.08 311.40,420.80 C324.30,419.52 336.07,417.85 342.40,415.40 C348.73,412.95 348.23,407.65 349.40,406.10" fill="none" stroke="#151515" stroke-width="1.2" stroke-linejoin="round"/>
<path d="M146.20,401.80 C146.50,402.50 146.68,404.47 148.00,406.00 C149.32,407.53 150.72,409.38 154.10,411.00 C157.48,412.62 161.22,413.97 168.30,415.70 C175.38,417.43 189.65,420.15 196.60,421.40 C203.55,422.65 198.60,422.53 210.00,423.20 C221.40,423.87 248.10,425.43 265.00,425.40 C281.90,425.37 298.50,424.32 311.40,423.00 C324.30,421.68 334.92,419.67 342.40,417.50 C349.88,415.33 353.72,411.38 356.30,410.00 C358.88,408.62 357.63,409.33 357.90,409.20" fill="none" stroke="#151515" stroke-width="1.2" stroke-linejoin="round"/>
<path d="M145.60,422.60 C146.88,423.80 149.63,427.82 153.30,429.80 C156.97,431.78 161.25,432.92 167.60,434.50 C173.95,436.08 182.67,438.10 191.40,439.30 C200.13,440.50 207.73,441.20 220.00,441.70 C232.27,442.20 249.77,442.82 265.00,442.30 C280.23,441.78 298.50,440.25 311.40,438.60 C324.30,436.95 334.65,434.20 342.40,432.40 C350.15,430.60 355.32,428.57 357.90,427.80" fill="none" stroke="#151515" stroke-width="1.3" stroke-linejoin="round"/>
<path d="M307.90,385.00 C312.53,385.35 327.85,384.95 335.70,387.10 C343.55,389.25 351.07,394.68 355.00,397.90 C358.93,401.12 358.77,403.73 359.30,406.40 C359.83,409.07 358.38,412.65 358.20,413.90" fill="none" stroke="#151515" stroke-width="1.2" stroke-linejoin="round"/>
<path d="M307.90,387.10 C312.18,387.47 326.47,387.33 333.60,389.30 C340.73,391.27 347.13,395.68 350.70,398.90 C354.27,402.12 354.28,406.98 355.00,408.60" fill="none" stroke="#151515" stroke-width="1.1" stroke-linejoin="round"/>
<path d="M159.80,409.10 C162.33,408.25 169.97,405.42 175.00,404.00 C180.03,402.58 187.50,401.17 190.00,400.60" fill="none" stroke="#151515" stroke-width="1.1" stroke-linejoin="round"/>
<path d="M159.80,409.10 L192.80,408.20" fill="none" stroke="#151515" stroke-width="1.1" stroke-linejoin="round"/>
<path d="M161.70,411.00 L192.80,411.50" fill="none" stroke="#151515" stroke-width="1.1" stroke-linejoin="round"/>
<ellipse cx="192.3" cy="401.3" rx="2.8" ry="1.8" fill="none" stroke="#151515" stroke-width="1.0"/>
<path d="M312.00,407.60 L340.00,408.00" fill="none" stroke="#151515" stroke-width="1.1" stroke-linejoin="round"/>
<path d="M312.00,410.70 L338.00,411.50" fill="none" stroke="#151515" stroke-width="1.1" stroke-linejoin="round"/>
<ellipse cx="313" cy="403.5" rx="1.8" ry="2.3" fill="none" stroke="#151515" stroke-width="1.0"/>
<path d="M196.00,390.30 L196.03,389.91 L196.14,389.51 L196.31,389.12 L196.54,388.73 L196.85,388.34 L197.22,387.95 L197.66,387.57 L198.17,387.19 L198.74,386.81 L199.38,386.44 L200.08,386.07 L200.84,385.70 L201.67,385.35 L202.55,384.99 L203.50,384.65 L204.51,384.31 L205.57,383.98 L206.70,383.66 L207.87,383.34 L209.10,383.04 L210.38,382.74 L211.72,382.45 L213.10,382.17 L214.53,381.90 L216.00,381.64 L217.52,381.40 L219.08,381.16 L220.69,380.93 L222.32,380.72 L224.00,380.51 L225.71,380.32 L227.45,380.14 L229.22,379.98 L231.02,379.82 L232.85,379.68 L234.70,379.55 L236.56,379.44 L238.45,379.34 L240.36,379.25 L242.28,379.17 L244.21,379.11 L246.15,379.06 L248.09,379.03 L250.05,379.01 L252.00,379.00 L253.95,379.01 L255.91,379.03 L257.85,379.06 L259.79,379.11 L261.72,379.17 L263.64,379.25 L265.55,379.34 L267.44,379.44 L269.30,379.55 L271.15,379.68 L272.98,379.82 L274.78,379.98 L276.55,380.14 L278.29,380.32 L280.00,380.51 L281.68,380.72 L283.31,380.93 L284.92,381.16 L286.48,381.40 L288.00,381.64 L289.47,381.90 L290.90,382.17 L292.28,382.45 L293.62,382.74 L294.90,383.04 L296.13,383.34 L297.30,383.66 L298.43,383.98 L299.49,384.31 L300.50,384.65 L301.45,384.99 L302.33,385.35 L303.16,385.70 L303.92,386.07 L304.62,386.44 L305.26,386.81 L305.83,387.19 L306.34,387.57 L306.78,387.95 L307.15,388.34 L307.46,388.73 L307.69,389.12 L307.86,389.51 L307.97,389.91 L308.00,390.30 L308.00,413.00 L307.97,413.38 L307.86,413.77 L307.69,414.15 L307.46,414.53 L307.15,414.91 L306.78,415.29 L306.34,415.66 L305.83,416.03 L305.26,416.40 L304.62,416.76 L303.92,417.12 L303.16,417.47 L302.33,417.82 L301.45,418.16 L300.50,418.50 L299.49,418.83 L298.43,419.15 L297.30,419.47 L296.13,419.77 L294.90,420.07 L293.62,420.36 L292.28,420.64 L290.90,420.91 L289.47,421.17 L288.00,421.43 L286.48,421.67 L284.92,421.90 L283.31,422.12 L281.68,422.33 L280.00,422.53 L278.29,422.71 L276.55,422.89 L274.78,423.05 L272.98,423.20 L271.15,423.34 L269.30,423.46 L267.44,423.57 L265.55,423.67 L263.64,423.76 L261.72,423.83 L259.79,423.89 L257.85,423.94 L255.91,423.97 L253.95,423.99 L252.00,424.00 L250.05,423.99 L248.09,423.97 L246.15,423.94 L244.21,423.89 L242.28,423.83 L240.36,423.76 L238.45,423.67 L236.56,423.57 L234.70,423.46 L232.85,423.34 L231.02,423.20 L229.22,423.05 L227.45,422.89 L225.71,422.71 L224.00,422.53 L222.32,422.33 L220.69,422.12 L219.08,421.90 L217.52,421.67 L216.00,421.43 L214.53,421.17 L213.10,420.91 L211.72,420.64 L210.38,420.36 L209.10,420.07 L207.87,419.77 L206.70,419.47 L205.57,419.15 L204.51,418.83 L203.50,418.50 L202.55,418.16 L201.67,417.82 L200.84,417.47 L200.08,417.12 L199.38,416.76 L198.74,416.40 L198.17,416.03 L197.66,415.66 L197.22,415.29 L196.85,414.91 L196.54,414.53 L196.31,414.15 L196.14,413.77 L196.03,413.38 L196.00,413.00 Z" fill="#fff" stroke="none"/>
<path d="M196.30,390.30 C196.29,390.14 196.19,389.54 196.21,389.32 C196.23,389.09 196.34,389.05 196.42,388.92 C196.50,388.79 196.59,388.66 196.69,388.53 C196.79,388.40 196.90,388.27 197.03,388.14 C197.15,388.01 197.29,387.89 197.44,387.76 C197.58,387.63 197.74,387.50 197.91,387.38 C198.08,387.25 198.26,387.12 198.45,387.00 C198.64,386.87 198.84,386.75 199.05,386.62 C199.26,386.50 199.49,386.37 199.72,386.25 C199.95,386.13 200.20,386.01 200.45,385.88 C200.71,385.76 200.97,385.64 201.25,385.52 C201.52,385.41 201.81,385.29 202.10,385.17 C202.40,385.05 202.71,384.94 203.02,384.82 C203.34,384.71 203.66,384.59 204.00,384.48 C204.33,384.37 204.68,384.26 205.03,384.15 C205.39,384.04 205.75,383.93 206.13,383.82 C206.50,383.71 206.88,383.60 207.28,383.50 C207.67,383.39 208.07,383.29 208.48,383.19 C208.89,383.09 209.31,382.99 209.74,382.89 C210.16,382.79 210.60,382.69 211.04,382.59 C211.49,382.50 211.94,382.40 212.40,382.31 C212.86,382.22 213.33,382.13 213.81,382.04 C214.28,381.95 214.77,381.86 215.26,381.77 C215.75,381.69 216.25,381.60 216.76,381.52 C217.26,381.44 217.78,381.35 218.30,381.28 C218.82,381.20 219.35,381.12 219.88,381.04 C220.41,380.97 220.95,380.89 221.50,380.82 C222.05,380.75 222.60,380.68 223.16,380.61 C223.72,380.55 224.28,380.48 224.85,380.42 C225.42,380.35 226.00,380.29 226.58,380.23 C227.16,380.17 227.74,380.11 228.33,380.06 C228.92,380.00 229.52,379.95 230.12,379.90 C230.72,379.85 231.32,379.80 231.93,379.75 C232.54,379.70 233.15,379.66 233.77,379.62 C234.38,379.57 235.00,379.53 235.63,379.49 C236.25,379.46 236.88,379.42 237.51,379.39 C238.14,379.35 238.77,379.32 239.40,379.29 C240.04,379.26 240.68,379.23 241.31,379.21 C241.95,379.18 242.60,379.16 243.24,379.14 C243.88,379.12 244.53,379.10 245.18,379.08 C245.82,379.07 246.47,379.05 247.12,379.04 C247.77,379.03 248.42,379.02 249.07,379.02 C249.72,379.01 250.37,379.00 251.02,379.00 C251.67,379.00 252.33,379.00 252.98,379.00 C253.63,379.00 254.28,379.01 254.93,379.02 C255.58,379.02 256.23,379.03 256.88,379.04 C257.53,379.05 258.18,379.07 258.82,379.08 C259.47,379.10 260.12,379.12 260.76,379.14 C261.40,379.16 262.05,379.18 262.69,379.21 C263.32,379.23 263.96,379.26 264.60,379.29 C265.23,379.32 265.86,379.35 266.49,379.39 C267.12,379.42 267.75,379.46 268.37,379.49 C269.00,379.53 269.62,379.57 270.23,379.62 C270.85,379.66 271.46,379.70 272.07,379.75 C272.68,379.80 273.28,379.85 273.88,379.90 C274.48,379.95 275.08,380.00 275.67,380.06 C276.26,380.11 276.84,380.17 277.42,380.23 C278.00,380.29 278.58,380.35 279.15,380.42 C279.72,380.48 280.28,380.55 280.84,380.61 C281.40,380.68 281.95,380.75 282.50,380.82 C283.05,380.89 283.59,380.97 284.12,381.04 C284.65,381.12 285.18,381.20 285.70,381.28 C286.22,381.35 286.74,381.44 287.24,381.52 C287.75,381.60 288.25,381.69 288.74,381.77 C289.23,381.86 289.72,381.95 290.19,382.04 C290.67,382.13 291.14,382.22 291.60,382.31 C292.06,382.40 292.51,382.50 292.96,382.59 C293.40,382.69 293.84,382.79 294.26,382.89 C294.69,382.99 295.11,383.09 295.52,383.19 C295.93,383.29 296.33,383.39 296.72,383.50 C297.12,383.60 297.50,383.71 297.87,383.82 C298.25,383.93 298.61,384.04 298.97,384.15 C299.32,384.26 299.67,384.37 300.00,384.48 C300.34,384.59 300.66,384.71 300.98,384.82 C301.29,384.94 301.60,385.05 301.90,385.17 C302.19,385.29 302.48,385.41 302.75,385.52 C303.03,385.64 303.29,385.76 303.55,385.88 C303.80,386.01 304.05,386.13 304.28,386.25 C304.51,386.37 304.74,386.50 304.95,386.62 C305.16,386.75 305.36,386.87 305.55,387.00 C305.74,387.12 305.92,387.25 306.09,387.38 C306.26,387.50 306.42,387.63 306.56,387.76 C306.71,387.89 306.85,388.01 306.97,388.14 C307.10,388.27 307.21,388.40 307.31,388.53 C307.41,388.66 307.50,388.79 307.58,388.92 C307.66,389.05 307.72,389.09 307.79,389.32 C307.86,389.54 307.96,390.14 308.00,390.30" fill="none" stroke="#151515" stroke-width="1.3" stroke-linejoin="round"/>
<path d="M308.00,390.30 L307.97,390.69 L307.86,391.09 L307.69,391.48 L307.46,391.87 L307.15,392.26 L306.78,392.65 L306.34,393.03 L305.83,393.41 L305.26,393.79 L304.62,394.16 L303.92,394.53 L303.16,394.90 L302.33,395.25 L301.45,395.61 L300.50,395.95 L299.49,396.29 L298.43,396.62 L297.30,396.94 L296.13,397.26 L294.90,397.56 L293.62,397.86 L292.28,398.15 L290.90,398.43 L289.47,398.70 L288.00,398.96 L286.48,399.20 L284.92,399.44 L283.31,399.67 L281.68,399.88 L280.00,400.09 L278.29,400.28 L276.55,400.46 L274.78,400.62 L272.98,400.78 L271.15,400.92 L269.30,401.05 L267.44,401.16 L265.55,401.26 L263.64,401.35 L261.72,401.43 L259.79,401.49 L257.85,401.54 L255.91,401.57 L253.95,401.59 L252.00,401.60 L250.05,401.59 L248.09,401.57 L246.15,401.54 L244.21,401.49 L242.28,401.43 L240.36,401.35 L238.45,401.26 L236.56,401.16 L234.70,401.05 L232.85,400.92 L231.02,400.78 L229.22,400.62 L227.45,400.46 L225.71,400.28 L224.00,400.09 L222.32,399.88 L220.69,399.67 L219.08,399.44 L217.52,399.20 L216.00,398.96 L214.53,398.70 L213.10,398.43 L211.72,398.15 L210.38,397.86 L209.10,397.56 L207.87,397.26 L206.70,396.94 L205.57,396.62 L204.51,396.29 L203.50,395.95 L202.55,395.61 L201.67,395.25 L200.84,394.90 L200.08,394.53 L199.38,394.16 L198.74,393.79 L198.17,393.41 L197.66,393.03 L197.22,392.65 L196.85,392.26 L196.54,391.87 L196.31,391.48 L196.14,391.09 L196.03,390.69 L196.00,390.30" fill="none" stroke="#151515" stroke-width="1.2" />
<ellipse cx="252" cy="391.5" rx="44.4" ry="6.1" fill="none" stroke="#151515" stroke-width="1.2"/>
<path d="M196.30,390.30 L196.30,418.00" fill="none" stroke="#151515" stroke-width="1.3" stroke-linejoin="round"/>
<path d="M308.30,390.30 L308.30,415.40" fill="none" stroke="#151515" stroke-width="1.3" stroke-linejoin="round"/>
<path d="M196.30,418.00 C198.60,418.58 200.82,420.67 210.10,421.50 C219.38,422.33 237.02,423.00 252.00,423.00 C266.98,423.00 290.62,422.77 300.00,421.50 C309.38,420.23 306.92,416.42 308.30,415.40" fill="none" stroke="#151515" stroke-width="1.2" stroke-linejoin="round"/>
<path d="M217.20,386.80 L217.20,399.50" fill="none" stroke="#151515" stroke-width="1.1" stroke-linejoin="round"/>
<path d="M222.20,386.30 L222.20,400.00" fill="none" stroke="#151515" stroke-width="1.1" stroke-linejoin="round"/>
<path d="M280.70,386.80 L280.70,399.50" fill="none" stroke="#151515" stroke-width="1.1" stroke-linejoin="round"/>
<path d="M285.70,386.30 L285.70,400.00" fill="none" stroke="#151515" stroke-width="1.1" stroke-linejoin="round"/>
<path d="M305.70,381.80 C305.83,381.17 305.45,378.77 306.50,378.00 C307.55,377.23 308.20,377.28 312.00,377.20 C315.80,377.12 326.42,377.45 329.30,377.50" fill="none" stroke="#151515" stroke-width="1.1" stroke-linejoin="round"/>
<path d="M327.00,377.50 C329.17,377.80 332.87,378.22 340.00,379.30 C347.13,380.38 361.47,382.12 369.80,384.00 C378.13,385.88 385.45,388.90 390.00,390.60 C394.55,392.30 395.62,393.02 397.10,394.20 C398.58,395.38 399.08,396.22 398.90,397.70 C398.72,399.18 397.88,401.02 396.00,403.10 C394.12,405.18 390.58,407.72 387.60,410.20 C384.62,412.68 380.48,416.02 378.10,418.00 C375.72,419.98 374.30,419.62 373.30,422.10 C372.30,424.58 372.30,431.10 372.10,432.90" fill="none" stroke="#151515" stroke-width="1.2" stroke-linejoin="round"/>
<path d="M320.00,366.50 C323.33,366.75 330.72,366.37 340.00,368.00 C349.28,369.63 366.77,374.22 375.70,376.30 C384.63,378.38 389.43,378.72 393.60,380.50 C397.77,382.28 399.12,385.02 400.70,387.00 C402.28,388.98 403.30,390.12 403.10,392.40 C402.90,394.68 401.48,397.93 399.50,400.70 C397.52,403.47 393.97,406.22 391.20,409.00 C388.43,411.78 384.58,414.82 382.90,417.40 C381.22,419.98 381.30,422.40 381.10,424.50 C380.90,426.60 381.60,429.08 381.70,430.00" fill="none" stroke="#151515" stroke-width="1.2" stroke-linejoin="round"/>
<path d="M403.10,390.00 C404.88,390.40 410.43,391.02 413.80,392.40 C417.17,393.78 421.72,395.72 423.30,398.30 C424.88,400.88 424.48,405.12 423.30,407.90 C422.12,410.68 418.58,413.02 416.20,415.00 C413.82,416.98 410.20,419.00 409.00,419.80" fill="none" stroke="#151515" stroke-width="1.2" stroke-linejoin="round"/>
<path d="M432.90,395.70 C433.28,396.33 434.82,397.87 435.20,399.50 C435.58,401.13 437.18,402.92 435.20,405.50 C433.22,408.08 427.27,412.23 423.30,415.00 C419.33,417.77 416.95,419.85 411.40,422.10 C405.85,424.35 396.55,426.70 390.00,428.50 C383.45,430.30 377.22,432.12 372.10,432.90 C366.98,433.68 361.43,433.15 359.30,433.20" fill="none" stroke="#151515" stroke-width="1.3" stroke-linejoin="round"/>
<path d="M408.30,419.00 L408.30,400.50 L411.50,399.50 L411.80,417.50" fill="none" stroke="#151515" stroke-width="1.1" stroke-linejoin="round"/>
<path d="M414.30,400.00 L414.60,416.50" fill="none" stroke="#151515" stroke-width="1.1" stroke-linejoin="round"/>
<path d="M340.00,390.00 C341.98,390.80 348.73,393.02 351.90,394.80 C355.07,396.58 357.62,399.12 359.00,400.70 C360.38,402.28 360.38,401.92 360.20,404.30 C360.02,406.68 358.28,413.22 357.90,415.00" fill="none" stroke="#151515" stroke-width="1.2" stroke-linejoin="round"/>
<path d="M359.60,401.90 L368.60,406.70 L368.60,412.60 L375.70,415.00" fill="none" stroke="#151515" stroke-width="1.1" stroke-linejoin="round"/>
<path d="M357.90,415.00 L365.00,417.50 L372.10,419.80" fill="none" stroke="#151515" stroke-width="1.1" stroke-linejoin="round"/>
<path d="M357.90,415.00 L358.50,434.00" fill="none" stroke="#151515" stroke-width="1.2" stroke-linejoin="round"/>
<path d="M136.70,433.50 C136.90,432.17 136.72,427.32 137.90,425.50 C139.08,423.68 142.82,423.08 143.80,422.60" fill="none" stroke="#151515" stroke-width="1.1" stroke-linejoin="round"/>
<path d="M140.20,434.50 C140.40,433.17 140.50,428.28 141.40,426.50 C142.30,424.72 144.90,424.25 145.60,423.80" fill="none" stroke="#151515" stroke-width="1.1" stroke-linejoin="round"/>
<path d="M143.80,435.50 C144.00,434.33 144.40,430.17 145.00,428.50 C145.60,426.83 147.00,426.00 147.40,425.50" fill="none" stroke="#151515" stroke-width="1.1" stroke-linejoin="round"/>
<path d="M146.00,426.50 C147.62,427.33 152.10,429.92 155.70,431.50 C159.30,433.08 165.62,435.25 167.60,436.00" fill="none" stroke="#151515" stroke-width="1.0" stroke-linejoin="round"/>
<path d="M206.30,590.30 L213.80,583.40 L223.90,579.00 L224.50,560.00 L216.00,546.00 L247.00,539.50 L283.30,541.00 L290.00,541.00 L310.00,534.00 L330.00,529.70 L359.80,534.90 L382.20,542.40 L397.10,549.80 L403.00,556.50 L404.50,563.20 L419.40,573.70 L434.30,584.10 L441.80,594.50 L443.30,605.00 L437.30,610.90 L419.40,612.40 L330.00,607.90 L300.00,605.40 L250.30,602.80 L225.10,600.30 L210.00,594.70 Z" fill="#fff" stroke="none"/>
<path d="M206.30,590.30 C207.55,589.15 210.87,585.28 213.80,583.40 C216.73,581.52 222.22,579.73 223.90,579.00" fill="none" stroke="#151515" stroke-width="1.3" stroke-linejoin="round"/>
<path d="M206.30,590.30 C206.92,591.03 206.87,593.03 210.00,594.70 C213.13,596.37 218.38,598.95 225.10,600.30 C231.82,601.65 237.82,601.95 250.30,602.80 C262.78,603.65 286.72,604.55 300.00,605.40 C313.28,606.25 310.10,606.73 330.00,607.90 C349.90,609.07 401.52,611.90 419.40,612.40 C437.28,612.90 433.32,612.13 437.30,610.90 C441.28,609.67 442.55,607.73 443.30,605.00 C444.05,602.27 443.30,597.98 441.80,594.50 C440.30,591.02 438.03,587.57 434.30,584.10 C430.57,580.63 424.37,576.72 419.40,573.70 C414.43,570.68 406.98,567.28 404.50,566.00" fill="none" stroke="#151515" stroke-width="1.3" stroke-linejoin="round"/>
<path d="M216.30,545.50 C218.18,546.05 224.03,547.62 227.60,548.80 C231.17,549.98 234.97,551.65 237.70,552.60 C240.43,553.55 242.95,554.18 244.00,554.50" fill="none" stroke="#151515" stroke-width="1.2" stroke-linejoin="round"/>
<path d="M247.10,539.50 C249.80,539.58 257.27,539.75 263.30,540.00 C269.33,540.25 279.02,540.78 283.30,541.00 C287.58,541.22 288.05,541.25 289.00,541.30" fill="none" stroke="#151515" stroke-width="1.2" stroke-linejoin="round"/>
<path d="M308.30,561.00 C309.92,561.83 315.38,564.28 318.00,566.00 C320.62,567.72 320.33,569.53 324.00,571.30 C327.67,573.07 336.52,575.57 340.00,576.60 C343.48,577.63 342.10,575.75 344.90,577.50 C347.70,579.25 354.57,584.68 356.80,587.10 C359.03,589.52 358.05,591.18 358.30,592.00" fill="none" stroke="#151515" stroke-width="1.2" stroke-linejoin="round"/>
<ellipse cx="312.5" cy="600" rx="14.5" ry="3.4" fill="none" stroke="#151515" stroke-width="1.2"/>
<ellipse cx="312.5" cy="600.6" rx="12.5" ry="2.4" fill="none" stroke="#151515" stroke-width="0.9"/>
<ellipse cx="413.5" cy="605.3" rx="15.6" ry="4.1" fill="none" stroke="#151515" stroke-width="1.2"/>
<ellipse cx="413.5" cy="605.9" rx="13.5" ry="3.0" fill="none" stroke="#151515" stroke-width="0.9"/>
<path d="M224.5,560.4 L224.5,590.3 A28.6,7.5 0 0 0 281.7,590.3 L281.7,560.4 Z" fill="#fff" stroke="#151515" stroke-width="1.4"/>
<ellipse cx="253.1" cy="560.4" rx="28.6" ry="6.6" fill="#fff" stroke="#151515" stroke-width="1.4"/>
<ellipse cx="253" cy="560.8" rx="21" ry="4.4" fill="none" stroke="#151515" stroke-width="1.2"/>
<path d="M222.50,588.00 C222.83,588.58 221.58,590.08 224.50,591.50 C227.42,592.92 235.25,595.45 240.00,596.50 C244.75,597.55 248.33,597.80 253.00,597.80 C257.67,597.80 263.22,597.55 268.00,596.50 C272.78,595.45 279.12,592.92 281.70,591.50 C284.28,590.08 283.20,588.58 283.50,588.00" fill="none" stroke="#151515" stroke-width="1.0" stroke-linejoin="round"/>
<ellipse cx="231" cy="544.1" rx="16.7" ry="3.6" fill="#fff" stroke="#151515" stroke-width="1.3"/>
<ellipse cx="231" cy="544.4" rx="14.5" ry="2.6" fill="none" stroke="#151515" stroke-width="0.9"/>
<path d="M221,518 L221,536.7 L220,544.5 Q231,547.5 241,544.5 L240,536.7 L240,518 Z" fill="#fff" stroke="#151515" stroke-width="1.3"/>
<path d="M221.00,536.70 C222.58,536.88 227.33,537.80 230.50,537.80 C233.67,537.80 238.42,536.88 240.00,536.70" fill="none" stroke="#151515" stroke-width="1.1" stroke-linejoin="round"/>
<ellipse cx="230.3" cy="517.9" rx="9.8" ry="2.6" fill="#fff" stroke="#151515" stroke-width="1.3"/>
<path d="M220.80,518.80 C222.42,519.08 227.27,520.50 230.50,520.50 C233.73,520.50 238.58,519.08 240.20,518.80" fill="none" stroke="#151515" stroke-width="1.0" stroke-linejoin="round"/>
<path d="M227.40,517.00 L230.00,512.40 L232.90,517.00" fill="#fff" stroke="#151515" stroke-width="1.1" stroke-linejoin="round"/>
<ellipse cx="273.3" cy="544" rx="10" ry="2.6" fill="#fff" stroke="#151515" stroke-width="1.2"/>
<path d="M269,508 L269,513.3 L266.7,524.8 L266.7,536.2 L265.2,536.2 L265.2,539 L264.3,539 L264.3,542 L282.3,542 L282.3,539 L279.5,539 L279.5,536.2 L278.1,536.2 L276.2,524.8 L276.2,524.8 L273.8,513.3 L273.8,508 Z" fill="#fff" stroke="#151515" stroke-width="1.2" stroke-linejoin="round"/>
<path d="M266.70,524.80 L276.20,524.80" fill="none" stroke="#151515" stroke-width="1.0" stroke-linejoin="round"/>
<path d="M268.70,513.30 L274.20,513.30" fill="none" stroke="#151515" stroke-width="1.0" stroke-linejoin="round"/>
<path d="M265.20,536.20 L279.50,536.20" fill="none" stroke="#151515" stroke-width="1.0" stroke-linejoin="round"/>
<path d="M309.50,536.50 L308.50,532.40 L310.50,530.50 L326.20,529.80 L352.40,534.40 L378.60,544.90 L394.30,552.70 L403.50,559.30 L404.80,564.00 L404.50,596.00 L382.20,601.20 L358.30,596.00 L358.30,575.00 L340.00,563.00 L320.00,560.00 L309.00,560.00 Z" fill="#fff" stroke="none"/>
<path d="M309.50,536.50 C309.33,535.82 308.33,533.40 308.50,532.40 C308.67,531.40 307.55,530.93 310.50,530.50 C313.45,530.07 319.22,529.15 326.20,529.80 C333.18,530.45 343.67,531.88 352.40,534.40 C361.13,536.92 371.62,541.85 378.60,544.90 C385.58,547.95 390.15,550.30 394.30,552.70 C398.45,555.10 401.75,557.42 403.50,559.30 C405.25,561.18 404.58,563.22 404.80,564.00" fill="none" stroke="#151515" stroke-width="1.4" stroke-linejoin="round"/>
<path d="M404.80,564.00 L404.50,596.00" fill="none" stroke="#151515" stroke-width="1.4" stroke-linejoin="round"/>
<path d="M310.50,536.40 C310.28,536.07 308.95,534.92 309.20,534.40 C309.45,533.88 310.27,533.52 312.00,533.30 C313.73,533.08 312.87,532.48 319.60,533.10 C326.33,533.72 342.57,534.60 352.40,537.00 C362.23,539.40 371.83,544.55 378.60,547.50 C385.37,550.45 390.17,552.87 393.00,554.70 C395.83,556.53 395.27,556.65 395.60,558.50 C395.93,560.35 395.65,564.37 395.00,565.80 C394.35,567.23 394.20,566.83 391.70,567.10 C389.20,567.37 383.93,567.62 380.00,567.40 C376.07,567.18 370.30,567.15 368.10,565.80 C365.90,564.45 367.67,561.03 366.80,559.30 C365.93,557.57 367.48,558.02 362.90,555.40 C358.32,552.78 346.52,546.33 339.30,543.60 C332.08,540.87 324.40,540.20 319.60,539.00 C314.80,537.80 312.02,536.83 310.50,536.40" fill="none" stroke="#151515" stroke-width="1.3" stroke-linejoin="round"/>
<path d="M319.60,541.20 C322.88,541.97 333.15,543.75 339.30,545.80 C345.45,547.85 353.13,551.63 356.50,553.50 C359.87,555.37 358.88,555.17 359.50,557.00 C360.12,558.83 360.08,563.25 360.20,564.50" fill="none" stroke="#151515" stroke-width="1.1" stroke-linejoin="round"/>
<path d="M360.20,564.50 C361.83,565.08 366.33,567.15 370.00,568.00 C373.67,568.85 378.03,569.52 382.20,569.60 C386.37,569.68 391.27,569.27 395.00,568.50 C398.73,567.73 403.00,565.58 404.60,565.00" fill="none" stroke="#151515" stroke-width="1.3" stroke-linejoin="round"/>
<path d="M360.20,564.50 L358.30,596.00" fill="none" stroke="#151515" stroke-width="1.3" stroke-linejoin="round"/>
<path d="M358.30,596.00 C360.25,596.63 366.02,598.93 370.00,599.80 C373.98,600.67 378.03,601.17 382.20,601.20 C386.37,601.23 391.28,600.87 395.00,600.00 C398.72,599.13 402.92,596.67 404.50,596.00" fill="none" stroke="#151515" stroke-width="1.3" stroke-linejoin="round"/>
<ellipse cx="296" cy="578" rx="13" ry="3" fill="#fff" stroke="#151515" stroke-width="1.2"/>
<path d="M288.7,523 L288.7,564 L286.7,576.7 Q298,580.5 308.7,576.7 L308,564 L308,523 Z" fill="#fff" stroke="#151515" stroke-width="1.3"/>
<path d="M288.70,563.50 C290.30,563.72 295.08,564.80 298.30,564.80 C301.52,564.80 306.38,563.72 308.00,563.50" fill="none" stroke="#151515" stroke-width="1.1" stroke-linejoin="round"/>
<ellipse cx="298.3" cy="523" rx="9.7" ry="2.4" fill="#fff" stroke="#151515" stroke-width="1.3"/>
<path d="M288.60,524.00 C290.22,524.25 295.07,525.50 298.30,525.50 C301.53,525.50 306.38,524.25 308.00,524.00" fill="none" stroke="#151515" stroke-width="1.0" stroke-linejoin="round"/>
<path d="M294.70,521.00 L298.00,516.70 L301.30,521.00" fill="#fff" stroke="#151515" stroke-width="1.1" stroke-linejoin="round"/>
<ellipse cx="317.2" cy="586.7" rx="9" ry="2.5" fill="#fff" stroke="#151515" stroke-width="1.1"/>
<path d="M315.3,536 L315.3,542.7 L312.7,558 L312,569.3 L310,569.3 L310,572.7 L308.7,572.7 L308.7,586.7 L324.7,586.7 L324.7,572.7 L323.3,572.7 L323.3,569.3 L321.6,569.3 L321.3,558 L319.3,542.7 L319.3,536 Z" fill="#fff" stroke="#151515" stroke-width="1.2" stroke-linejoin="round"/>
<path d="M312.70,558.00 L321.30,558.00" fill="none" stroke="#151515" stroke-width="1.0" stroke-linejoin="round"/>
<path d="M315.30,542.70 L319.30,542.70" fill="none" stroke="#151515" stroke-width="1.0" stroke-linejoin="round"/>
<path d="M310.00,569.30 L323.30,569.30" fill="none" stroke="#151515" stroke-width="1.0" stroke-linejoin="round"/>
<path d="M308.70,578.00 L324.70,578.00" fill="none" stroke="#151515" stroke-width="1.0" stroke-linejoin="round"/>
<path d="M585.60,218.50 L585.66,217.52 L585.84,216.55 L586.14,215.57 L586.56,214.60 L587.10,213.64 L587.76,212.68 L588.54,211.73 L589.44,210.78 L590.45,209.85 L591.57,208.92 L592.81,208.01 L594.16,207.11 L595.62,206.23 L597.19,205.35 L598.86,204.50 L600.64,203.66 L602.53,202.84 L604.51,202.04 L606.59,201.26 L608.76,200.50 L611.03,199.76 L613.39,199.05 L615.83,198.36 L618.36,197.69 L620.96,197.05 L623.65,196.44 L626.41,195.85 L629.24,195.29 L632.14,194.75 L635.10,194.25 L638.12,193.78 L641.20,193.33 L644.33,192.92 L647.51,192.54 L650.74,192.19 L654.01,191.87 L657.31,191.58 L660.65,191.33 L664.02,191.11 L667.41,190.93 L670.82,190.77 L674.25,190.65 L677.69,190.57 L681.14,190.52 L684.60,190.50 L688.06,190.52 L691.51,190.57 L694.95,190.65 L698.38,190.77 L701.79,190.93 L705.18,191.11 L708.55,191.33 L711.89,191.58 L715.19,191.87 L718.46,192.19 L721.69,192.54 L724.87,192.92 L728.00,193.33 L731.08,193.78 L734.10,194.25 L737.06,194.75 L739.96,195.29 L742.79,195.85 L745.55,196.44 L748.24,197.05 L750.84,197.69 L753.37,198.36 L755.81,199.05 L758.17,199.76 L760.44,200.50 L762.61,201.26 L764.69,202.04 L766.67,202.84 L768.56,203.66 L770.34,204.50 L772.01,205.35 L773.58,206.23 L775.04,207.11 L776.39,208.01 L777.63,208.92 L778.75,209.85 L779.76,210.78 L780.66,211.73 L781.44,212.68 L782.10,213.64 L782.64,214.60 L783.06,215.57 L783.36,216.55 L783.54,217.52 L783.60,218.50 L783.60,218.50 L783.54,219.13 L783.36,219.76 L783.06,220.38 L782.64,221.01 L782.10,221.63 L781.44,222.24 L780.66,222.85 L779.76,223.46 L778.75,224.06 L777.63,224.66 L776.39,225.24 L775.04,225.82 L773.58,226.39 L772.01,226.95 L770.34,227.50 L768.56,228.04 L766.67,228.57 L764.69,229.08 L762.61,229.58 L760.44,230.07 L758.17,230.54 L755.81,231.00 L753.37,231.45 L750.84,231.88 L748.24,232.29 L745.55,232.68 L742.79,233.06 L739.96,233.42 L737.06,233.76 L734.10,234.09 L731.08,234.39 L728.00,234.68 L724.87,234.94 L721.69,235.19 L718.46,235.41 L715.19,235.62 L711.89,235.80 L708.55,235.97 L705.18,236.11 L701.79,236.23 L698.38,236.32 L694.95,236.40 L691.51,236.46 L688.06,236.49 L684.60,236.50 L681.14,236.49 L677.69,236.46 L674.25,236.40 L670.82,236.32 L667.41,236.23 L664.02,236.11 L660.65,235.97 L657.31,235.80 L654.01,235.62 L650.74,235.41 L647.51,235.19 L644.33,234.94 L641.20,234.68 L638.12,234.39 L635.10,234.09 L632.14,233.76 L629.24,233.42 L626.41,233.06 L623.65,232.68 L620.96,232.29 L618.36,231.88 L615.83,231.45 L613.39,231.00 L611.03,230.54 L608.76,230.07 L606.59,229.58 L604.51,229.08 L602.53,228.57 L600.64,228.04 L598.86,227.50 L597.19,226.95 L595.62,226.39 L594.16,225.82 L592.81,225.24 L591.57,224.66 L590.45,224.06 L589.44,223.46 L588.54,222.85 L587.76,222.24 L587.10,221.63 L586.56,221.01 L586.14,220.38 L585.84,219.76 L585.66,219.13 L585.60,218.50 Z" fill="#fff" stroke="none"/>
<path d="M585.60,218.50 L585.66,217.52 L585.84,216.55 L586.14,215.57 L586.56,214.60 L587.10,213.64 L587.76,212.68 L588.54,211.73 L589.44,210.78 L590.45,209.85 L591.57,208.92 L592.81,208.01 L594.16,207.11 L595.62,206.23 L597.19,205.35 L598.86,204.50 L600.64,203.66" fill="none" stroke="#151515" stroke-width="1.4" />
<path d="M768.56,203.66 L770.34,204.50 L772.01,205.35 L773.58,206.23 L775.04,207.11 L776.39,208.01 L777.63,208.92 L778.75,209.85 L779.76,210.78 L780.66,211.73 L781.44,212.68 L782.10,213.64 L782.64,214.60 L783.06,215.57 L783.36,216.55 L783.54,217.52 L783.60,218.50" fill="none" stroke="#151515" stroke-width="1.4" />
<path d="M783.60,218.50 L783.54,219.13 L783.36,219.76 L783.06,220.38 L782.64,221.01 L782.10,221.63 L781.44,222.24 L780.66,222.85 L779.76,223.46 L778.75,224.06 L777.63,224.66 L776.39,225.24 L775.04,225.82 L773.58,226.39 L772.01,226.95 L770.34,227.50 L768.56,228.04 L766.67,228.57 L764.69,229.08 L762.61,229.58 L760.44,230.07 L758.17,230.54 L755.81,231.00 L753.37,231.45 L750.84,231.88 L748.24,232.29 L745.55,232.68 L742.79,233.06 L739.96,233.42 L737.06,233.76 L734.10,234.09 L731.08,234.39 L728.00,234.68 L724.87,234.94 L721.69,235.19 L718.46,235.41 L715.19,235.62 L711.89,235.80 L708.55,235.97 L705.18,236.11 L701.79,236.23 L698.38,236.32 L694.95,236.40 L691.51,236.46 L688.06,236.49 L684.60,236.50 L681.14,236.49 L677.69,236.46 L674.25,236.40 L670.82,236.32 L667.41,236.23 L664.02,236.11 L660.65,235.97 L657.31,235.80 L654.01,235.62 L650.74,235.41 L647.51,235.19 L644.33,234.94 L641.20,234.68 L638.12,234.39 L635.10,234.09 L632.14,233.76 L629.24,233.42 L626.41,233.06 L623.65,232.68 L620.96,232.29 L618.36,231.88 L615.83,231.45 L613.39,231.00 L611.03,230.54 L608.76,230.07 L606.59,229.58 L604.51,229.08 L602.53,228.57 L600.64,228.04 L598.86,227.50 L597.19,226.95 L595.62,226.39 L594.16,225.82 L592.81,225.24 L591.57,224.66 L590.45,224.06 L589.44,223.46 L588.54,222.85 L587.76,222.24 L587.10,221.63 L586.56,221.01 L586.14,220.38 L585.84,219.76 L585.66,219.13 L585.60,218.50" fill="none" stroke="#151515" stroke-width="1.5" />
<ellipse cx="685" cy="205.9" rx="86.25" ry="15.4" fill="none" stroke="#151515" stroke-width="1.4"/>
<path d="M553.60,426.10 L555.40,420.70 L560.70,415.40 L576.80,404.60 L595.50,396.60 L774.60,396.60 L796.10,408.20 L810.40,417.10 L815.70,423.40 L816.60,427.90 L815.70,431.40 L815.70,431.40 L805.00,439.00 L790.00,446.00 L760.00,453.30 L686.70,458.30 L620.00,454.20 L590.00,447.50 L567.90,440.80 L558.00,435.50 L554.50,430.50 Z" fill="#fff" stroke="none"/>
<path d="M595.50,396.60 C592.38,397.93 582.60,401.47 576.80,404.60 C571.00,407.73 564.27,412.72 560.70,415.40 C557.13,418.08 556.58,418.92 555.40,420.70 C554.22,422.48 553.90,425.20 553.60,426.10" fill="none" stroke="#151515" stroke-width="1.3" stroke-linejoin="round"/>
<path d="M774.60,396.60 C778.18,398.53 790.13,404.78 796.10,408.20 C802.07,411.62 807.13,414.57 810.40,417.10 C813.67,419.63 814.67,421.60 815.70,423.40 C816.73,425.20 816.45,427.15 816.60,427.90" fill="none" stroke="#151515" stroke-width="1.3" stroke-linejoin="round"/>
<path d="M553.60,426.10 L554.50,430.50" fill="none" stroke="#151515" stroke-width="1.3" stroke-linejoin="round"/>
<path d="M816.60,427.90 L815.70,431.40" fill="none" stroke="#151515" stroke-width="1.3" stroke-linejoin="round"/>
<path d="M553.60,426.10 C554.33,427.00 555.62,429.68 558.00,431.50 C560.38,433.32 562.57,435.00 567.90,437.00 C573.23,439.00 581.32,441.62 590.00,443.50 C598.68,445.38 603.88,446.80 620.00,448.30 C636.12,449.80 663.37,452.63 686.70,452.50 C710.03,452.37 742.78,449.33 760.00,447.50 C777.22,445.67 782.50,443.50 790.00,441.50 C797.50,439.50 800.57,437.77 805.00,435.50 C809.43,433.23 814.67,429.17 816.60,427.90" fill="none" stroke="#151515" stroke-width="1.2" stroke-linejoin="round"/>
<path d="M554.50,430.50 C555.08,431.33 555.77,433.78 558.00,435.50 C560.23,437.22 562.57,438.80 567.90,440.80 C573.23,442.80 581.32,445.27 590.00,447.50 C598.68,449.73 603.88,452.40 620.00,454.20 C636.12,456.00 663.37,458.45 686.70,458.30 C710.03,458.15 742.78,455.35 760.00,453.30 C777.22,451.25 782.50,448.38 790.00,446.00 C797.50,443.62 800.72,441.43 805.00,439.00 C809.28,436.57 813.92,432.67 815.70,431.40" fill="none" stroke="#151515" stroke-width="1.4" stroke-linejoin="round"/>
<path d="M595.50,396.60 C599.82,398.08 606.32,403.35 621.40,405.50 C636.48,407.65 666.23,409.50 686.00,409.50 C705.77,409.50 725.23,407.65 740.00,405.50 C754.77,403.35 768.83,398.08 774.60,396.60" fill="none" stroke="#151515" stroke-width="1.2" stroke-linejoin="round"/>
<path d="M595.50,400.00 C599.82,401.58 606.32,407.23 621.40,409.50 C636.48,411.77 666.23,413.60 686.00,413.60 C705.77,413.60 725.23,411.68 740.00,409.50 C754.77,407.32 768.83,402.00 774.60,400.50" fill="none" stroke="#151515" stroke-width="1.2" stroke-linejoin="round"/>
<path d="M595.50,404.60 C599.82,406.25 606.32,411.85 621.40,414.50 C636.48,417.15 666.23,420.25 686.00,420.50 C705.77,420.75 725.83,418.05 740.00,416.00 C754.17,413.95 765.23,410.53 771.00,408.20 C776.77,405.87 774.00,403.03 774.60,402.00" fill="none" stroke="#151515" stroke-width="1.3" stroke-linejoin="round"/>
<path d="M595.50,396.60 L595.50,404.60" fill="none" stroke="#151515" stroke-width="1.2" stroke-linejoin="round"/>
<path d="M774.60,396.60 L774.60,402.00" fill="none" stroke="#151515" stroke-width="1.2" stroke-linejoin="round"/>
<path d="M600.00,366.00 L600.33,364.70 L601.34,363.40 L603.00,362.13 L605.31,360.88 L608.24,359.68 L611.79,358.52 L615.91,357.42 L620.59,356.38 L625.77,355.42 L631.43,354.54 L637.53,353.75 L644.00,353.04 L650.81,352.44 L657.90,351.94 L665.22,351.55 L672.72,351.27 L680.33,351.10 L688.00,351.04 L695.67,351.10 L703.28,351.27 L710.78,351.55 L718.10,351.94 L725.19,352.44 L732.00,353.04 L738.47,353.75 L744.57,354.54 L750.23,355.42 L755.41,356.38 L760.09,357.42 L764.21,358.52 L767.76,359.68 L770.69,360.88 L773.00,362.13 L774.66,363.40 L775.67,364.70 L776.00,366.00 L779.00,396.00 L778.65,396.57 L777.62,397.13 L775.90,397.68 L773.51,398.22 L770.47,398.75 L766.81,399.25 L762.54,399.73 L757.71,400.18 L752.35,400.60 L746.49,400.98 L740.20,401.32 L733.50,401.63 L726.46,401.89 L719.12,402.11 L711.55,402.28 L703.80,402.40 L695.93,402.48 L688.00,402.50 L680.07,402.48 L672.20,402.40 L664.45,402.28 L656.88,402.11 L649.54,401.89 L642.50,401.63 L635.80,401.32 L629.51,400.98 L623.65,400.60 L618.29,400.18 L613.46,399.73 L609.19,399.25 L605.53,398.75 L602.49,398.22 L600.10,397.68 L598.38,397.13 L597.35,396.57 L597.00,396.00 Z" fill="#fff" stroke="none"/>
<path d="M622.00,375.00 C622.17,374.68 622.34,373.69 623.00,373.05 C623.67,372.41 624.67,371.77 625.98,371.16 C627.29,370.55 628.93,369.95 630.84,369.39 C632.75,368.83 634.99,368.29 637.44,367.79 C639.90,367.29 642.65,366.82 645.58,366.40 C648.50,365.99 651.69,365.61 655.00,365.28 C658.31,364.96 661.84,364.68 665.43,364.46 C669.02,364.23 672.78,364.06 676.54,363.95 C680.30,363.84 684.18,363.78 688.00,363.78 C691.82,363.78 695.70,363.84 699.46,363.95 C703.22,364.06 706.98,364.23 710.57,364.46 C714.16,364.68 717.69,364.96 721.00,365.28 C724.31,365.61 727.50,365.99 730.42,366.40 C733.35,366.82 736.10,367.29 738.56,367.79 C741.01,368.29 743.25,368.83 745.16,369.39 C747.07,369.95 748.71,370.55 750.02,371.16 C751.33,371.77 752.33,372.41 753.00,373.05 C753.66,373.69 753.83,374.68 754.00,375.00" fill="none" stroke="#151515" stroke-width="1.0" stroke-linejoin="round"/>
<path d="M705.75,364.19 L711.66,360.59 L711.66,351.59 L705.75,355.19 Z" fill="#fff" stroke="#151515" stroke-width="1.1" stroke-linejoin="round"/>
<path d="M690.76,370.79 L698.32,370.92 L705.75,371.19 L705.75,355.19 L698.32,354.92 L690.76,354.79 Z" fill="#fff" stroke="#151515" stroke-width="1.1" stroke-linejoin="round"/>
<path d="M690.76,354.79 L698.32,354.92 L705.75,355.19 L711.66,351.59 L701.77,351.22 L691.69,351.05 Z" fill="#fff" stroke="#151515" stroke-width="1.1" stroke-linejoin="round"/>
<path d="M670.25,364.19 L664.34,360.59 L664.34,351.59 L670.25,355.19 Z" fill="#fff" stroke="#151515" stroke-width="1.1" stroke-linejoin="round"/>
<path d="M670.25,371.19 L677.68,370.92 L685.24,370.79 L685.24,354.79 L677.68,354.92 L670.25,355.19 Z" fill="#fff" stroke="#151515" stroke-width="1.1" stroke-linejoin="round"/>
<path d="M670.25,355.19 L677.68,354.92 L685.24,354.79 L684.31,351.05 L674.23,351.22 L664.34,351.59 Z" fill="#fff" stroke="#151515" stroke-width="1.1" stroke-linejoin="round"/>
<path d="M724.52,365.65 L736.70,362.54 L736.70,353.54 L724.52,356.65 Z" fill="#fff" stroke="#151515" stroke-width="1.1" stroke-linejoin="round"/>
<path d="M711.01,371.48 L717.96,372.00 L724.52,372.65 L724.52,356.65 L717.96,356.00 L711.01,355.48 Z" fill="#fff" stroke="#151515" stroke-width="1.1" stroke-linejoin="round"/>
<path d="M711.01,355.48 L717.96,356.00 L724.52,356.65 L736.70,353.54 L727.95,352.67 L718.67,351.98 Z" fill="#fff" stroke="#151515" stroke-width="1.1" stroke-linejoin="round"/>
<path d="M651.48,365.65 L639.30,362.54 L639.30,353.54 L651.48,356.65 Z" fill="#fff" stroke="#151515" stroke-width="1.1" stroke-linejoin="round"/>
<path d="M651.48,372.65 L658.04,372.00 L664.99,371.48 L664.99,355.48 L658.04,356.00 L651.48,356.65 Z" fill="#fff" stroke="#151515" stroke-width="1.1" stroke-linejoin="round"/>
<path d="M651.48,356.65 L658.04,356.00 L664.99,355.48 L657.33,351.98 L648.05,352.67 L639.30,353.54 Z" fill="#fff" stroke="#151515" stroke-width="1.1" stroke-linejoin="round"/>
<path d="M739.72,368.03 L756.97,365.71 L756.97,356.71 L739.72,359.03 Z" fill="#fff" stroke="#151515" stroke-width="1.1" stroke-linejoin="round"/>
<path d="M729.00,373.21 L734.67,374.07 L739.72,375.03 L739.72,359.03 L734.67,358.07 L729.00,357.21 Z" fill="#fff" stroke="#151515" stroke-width="1.1" stroke-linejoin="round"/>
<path d="M729.00,357.21 L734.67,358.07 L739.72,359.03 L756.97,356.71 L750.23,355.42 L742.66,354.28 Z" fill="#fff" stroke="#151515" stroke-width="1.1" stroke-linejoin="round"/>
<path d="M636.28,368.03 L619.03,365.71 L619.03,356.71 L636.28,359.03 Z" fill="#fff" stroke="#151515" stroke-width="1.1" stroke-linejoin="round"/>
<path d="M636.28,375.03 L641.33,374.07 L647.00,373.21 L647.00,357.21 L641.33,358.07 L636.28,359.03 Z" fill="#fff" stroke="#151515" stroke-width="1.1" stroke-linejoin="round"/>
<path d="M636.28,359.03 L641.33,358.07 L647.00,357.21 L633.34,354.28 L625.77,355.42 L619.03,356.71 Z" fill="#fff" stroke="#151515" stroke-width="1.1" stroke-linejoin="round"/>
<path d="M749.86,371.09 L770.48,369.79 L770.48,360.79 L749.86,362.09 Z" fill="#fff" stroke="#151515" stroke-width="1.1" stroke-linejoin="round"/>
<path d="M742.97,375.79 L746.81,376.91 L749.86,378.09 L749.86,362.09 L746.81,360.91 L742.97,359.79 Z" fill="#fff" stroke="#151515" stroke-width="1.1" stroke-linejoin="round"/>
<path d="M742.97,359.79 L746.81,360.91 L749.86,362.09 L770.48,360.79 L766.41,359.21 L761.30,357.72 Z" fill="#fff" stroke="#151515" stroke-width="1.1" stroke-linejoin="round"/>
<path d="M626.14,371.09 L605.52,369.79 L605.52,360.79 L626.14,362.09 Z" fill="#fff" stroke="#151515" stroke-width="1.1" stroke-linejoin="round"/>
<path d="M626.14,378.09 L629.19,376.91 L633.03,375.79 L633.03,359.79 L629.19,360.91 L626.14,362.09 Z" fill="#fff" stroke="#151515" stroke-width="1.1" stroke-linejoin="round"/>
<path d="M626.14,362.09 L629.19,360.91 L633.03,359.79 L614.70,357.72 L609.59,359.21 L605.52,360.79 Z" fill="#fff" stroke="#151515" stroke-width="1.1" stroke-linejoin="round"/>
<path d="M753.94,374.53 L775.92,374.37 L775.92,365.37 L753.94,365.53 Z" fill="#fff" stroke="#151515" stroke-width="1.1" stroke-linejoin="round"/>
<path d="M751.57,378.98 L753.19,380.24 L753.94,381.53 L753.94,365.53 L753.19,364.24 L751.57,362.98 Z" fill="#fff" stroke="#151515" stroke-width="1.1" stroke-linejoin="round"/>
<path d="M751.57,362.98 L753.19,364.24 L753.94,365.53 L775.92,365.37 L774.92,363.66 L772.76,361.98 Z" fill="#fff" stroke="#151515" stroke-width="1.1" stroke-linejoin="round"/>
<path d="M622.06,374.53 L600.08,374.37 L600.08,365.37 L622.06,365.53 Z" fill="#fff" stroke="#151515" stroke-width="1.1" stroke-linejoin="round"/>
<path d="M622.06,381.53 L622.81,380.24 L624.43,378.98 L624.43,362.98 L622.81,364.24 L622.06,365.53 Z" fill="#fff" stroke="#151515" stroke-width="1.1" stroke-linejoin="round"/>
<path d="M622.06,365.53 L622.81,364.24 L624.43,362.98 L603.24,361.98 L601.08,363.66 L600.08,365.37 Z" fill="#fff" stroke="#151515" stroke-width="1.1" stroke-linejoin="round"/>
<ellipse cx="685" cy="370.4" rx="44" ry="9" fill="#fff" stroke="#151515" stroke-width="1.5"/>
<ellipse cx="685" cy="369.8" rx="37" ry="6" fill="none" stroke="#151515" stroke-width="1.2"/>
<ellipse cx="685" cy="370.1" rx="40.5" ry="7.5" fill="none" stroke="#151515" stroke-width="0.8"/>
<path d="M776.00,375.00 L775.67,376.30 L774.66,377.60 L773.00,378.87 L770.69,380.12 L767.76,381.32 L764.21,382.48 L760.09,383.58 L755.41,384.62 L750.23,385.58 L744.57,386.46 L738.47,387.25 L732.00,387.96 L725.19,388.56 L718.10,389.06 L710.78,389.45 L703.28,389.73 L695.67,389.90 L688.00,389.96 L680.33,389.90 L672.72,389.73 L665.22,389.45 L657.90,389.06 L650.81,388.56 L644.00,387.96 L637.53,387.25 L631.43,386.46 L625.77,385.58 L620.59,384.62 L615.91,383.58 L611.79,382.48 L608.24,381.32 L605.31,380.12 L603.00,378.87 L601.34,377.60 L600.33,376.30 L600.00,375.00 L597.00,396.00 L597.35,396.57 L598.38,397.13 L600.10,397.68 L602.49,398.22 L605.53,398.75 L609.19,399.25 L613.46,399.73 L618.29,400.18 L623.65,400.60 L629.51,400.98 L635.80,401.32 L642.50,401.63 L649.54,401.89 L656.88,402.11 L664.45,402.28 L672.20,402.40 L680.07,402.48 L688.00,402.50 L695.93,402.48 L703.80,402.40 L711.55,402.28 L719.12,402.11 L726.46,401.89 L733.50,401.63 L740.20,401.32 L746.49,400.98 L752.35,400.60 L757.71,400.18 L762.54,399.73 L766.81,399.25 L770.47,398.75 L773.51,398.22 L775.90,397.68 L777.62,397.13 L778.65,396.57 L779.00,396.00 Z" fill="#fff" stroke="#151515" stroke-width="1.3" stroke-linejoin="round"/>
<path d="M751.57,378.02 L772.76,379.02 L772.76,370.02 L751.57,369.02 Z" fill="#fff" stroke="#151515" stroke-width="1.1" stroke-linejoin="round"/>
<path d="M775.92,375.63 L774.92,377.34 L772.76,379.02 L772.76,370.02 L774.92,368.34 L775.92,366.63 Z" fill="#fff" stroke="#151515" stroke-width="1.1" stroke-linejoin="round"/>
<path d="M753.94,366.47 L753.19,367.76 L751.57,369.02 L772.76,370.02 L774.92,368.34 L775.92,366.63 Z" fill="#fff" stroke="#151515" stroke-width="1.1" stroke-linejoin="round"/>
<path d="M624.43,378.02 L603.24,379.02 L603.24,370.02 L624.43,369.02 Z" fill="#fff" stroke="#151515" stroke-width="1.1" stroke-linejoin="round"/>
<path d="M603.24,379.02 L601.08,377.34 L600.08,375.63 L600.08,366.63 L601.08,368.34 L603.24,370.02 Z" fill="#fff" stroke="#151515" stroke-width="1.1" stroke-linejoin="round"/>
<path d="M624.43,369.02 L622.81,367.76 L622.06,366.47 L600.08,366.63 L601.08,368.34 L603.24,370.02 Z" fill="#fff" stroke="#151515" stroke-width="1.1" stroke-linejoin="round"/>
<path d="M742.97,381.21 L761.30,383.28 L761.30,374.28 L742.97,372.21 Z" fill="#fff" stroke="#151515" stroke-width="1.1" stroke-linejoin="round"/>
<path d="M770.48,380.21 L766.41,381.79 L761.30,383.28 L761.30,374.28 L766.41,372.79 L770.48,371.21 Z" fill="#fff" stroke="#151515" stroke-width="1.1" stroke-linejoin="round"/>
<path d="M749.86,369.91 L746.81,371.09 L742.97,372.21 L761.30,374.28 L766.41,372.79 L770.48,371.21 Z" fill="#fff" stroke="#151515" stroke-width="1.1" stroke-linejoin="round"/>
<path d="M633.03,381.21 L614.70,383.28 L614.70,374.28 L633.03,372.21 Z" fill="#fff" stroke="#151515" stroke-width="1.1" stroke-linejoin="round"/>
<path d="M614.70,383.28 L609.59,381.79 L605.52,380.21 L605.52,371.21 L609.59,372.79 L614.70,374.28 Z" fill="#fff" stroke="#151515" stroke-width="1.1" stroke-linejoin="round"/>
<path d="M633.03,372.21 L629.19,371.09 L626.14,369.91 L605.52,371.21 L609.59,372.79 L614.70,374.28 Z" fill="#fff" stroke="#151515" stroke-width="1.1" stroke-linejoin="round"/>
<path d="M729.00,383.79 L742.66,386.72 L742.66,377.72 L729.00,374.79 Z" fill="#fff" stroke="#151515" stroke-width="1.1" stroke-linejoin="round"/>
<path d="M756.97,384.29 L750.23,385.58 L742.66,386.72 L742.66,377.72 L750.23,376.58 L756.97,375.29 Z" fill="#fff" stroke="#151515" stroke-width="1.1" stroke-linejoin="round"/>
<path d="M739.72,372.97 L734.67,373.93 L729.00,374.79 L742.66,377.72 L750.23,376.58 L756.97,375.29 Z" fill="#fff" stroke="#151515" stroke-width="1.1" stroke-linejoin="round"/>
<path d="M647.00,383.79 L633.34,386.72 L633.34,377.72 L647.00,374.79 Z" fill="#fff" stroke="#151515" stroke-width="1.1" stroke-linejoin="round"/>
<path d="M633.34,386.72 L625.77,385.58 L619.03,384.29 L619.03,375.29 L625.77,376.58 L633.34,377.72 Z" fill="#fff" stroke="#151515" stroke-width="1.1" stroke-linejoin="round"/>
<path d="M647.00,374.79 L641.33,373.93 L636.28,372.97 L619.03,375.29 L625.77,376.58 L633.34,377.72 Z" fill="#fff" stroke="#151515" stroke-width="1.1" stroke-linejoin="round"/>
<path d="M711.01,385.52 L718.67,389.02 L718.67,380.02 L711.01,376.52 Z" fill="#fff" stroke="#151515" stroke-width="1.1" stroke-linejoin="round"/>
<path d="M736.70,387.46 L727.95,388.33 L718.67,389.02 L718.67,380.02 L727.95,379.33 L736.70,378.46 Z" fill="#fff" stroke="#151515" stroke-width="1.1" stroke-linejoin="round"/>
<path d="M724.52,375.35 L717.96,376.00 L711.01,376.52 L718.67,380.02 L727.95,379.33 L736.70,378.46 Z" fill="#fff" stroke="#151515" stroke-width="1.1" stroke-linejoin="round"/>
<path d="M664.99,385.52 L657.33,389.02 L657.33,380.02 L664.99,376.52 Z" fill="#fff" stroke="#151515" stroke-width="1.1" stroke-linejoin="round"/>
<path d="M657.33,389.02 L648.05,388.33 L639.30,387.46 L639.30,378.46 L648.05,379.33 L657.33,380.02 Z" fill="#fff" stroke="#151515" stroke-width="1.1" stroke-linejoin="round"/>
<path d="M664.99,376.52 L658.04,376.00 L651.48,375.35 L639.30,378.46 L648.05,379.33 L657.33,380.02 Z" fill="#fff" stroke="#151515" stroke-width="1.1" stroke-linejoin="round"/>
<path d="M684.31,389.95 L674.23,389.78 L664.34,389.41 L664.34,380.41 L674.23,380.78 L684.31,380.95 Z" fill="#fff" stroke="#151515" stroke-width="1.1" stroke-linejoin="round"/>
<path d="M685.24,377.21 L677.68,377.08 L670.25,376.81 L664.34,380.41 L674.23,380.78 L684.31,380.95 Z" fill="#fff" stroke="#151515" stroke-width="1.1" stroke-linejoin="round"/>
<path d="M711.66,389.41 L701.77,389.78 L691.69,389.95 L691.69,380.95 L701.77,380.78 L711.66,380.41 Z" fill="#fff" stroke="#151515" stroke-width="1.1" stroke-linejoin="round"/>
<path d="M705.75,376.81 L698.32,377.08 L690.76,377.21 L691.69,380.95 L701.77,380.78 L711.66,380.41 Z" fill="#fff" stroke="#151515" stroke-width="1.1" stroke-linejoin="round"/>
<path d="M684.93,389.45 L685.54,398.00 Q688.00,401.50 690.46,398.00 L691.07,389.45" fill="#fff" stroke="#151515" stroke-width="1.1"/>
<path d="M657.90,388.56 L657.85,397.68 Q660.19,401.18 662.53,397.68 L663.74,388.88" fill="#fff" stroke="#151515" stroke-width="1.1"/>
<path d="M633.82,386.29 L633.11,396.76 Q635.10,400.26 637.09,396.76 L638.79,386.90" fill="#fff" stroke="#151515" stroke-width="1.1"/>
<path d="M615.04,382.87 L613.74,395.32 Q615.19,398.82 616.63,395.32 L618.66,383.71" fill="#fff" stroke="#151515" stroke-width="1.1"/>
<path d="M603.41,378.62 L601.65,393.51 Q602.40,397.01 603.16,393.51 L605.31,379.62" fill="#fff" stroke="#151515" stroke-width="1.1"/>
<path d="M770.69,379.62 L772.84,393.51 Q773.60,397.01 774.35,393.51 L772.59,378.62" fill="#fff" stroke="#151515" stroke-width="1.1"/>
<path d="M757.34,383.71 L759.37,395.32 Q760.81,398.82 762.26,395.32 L760.96,382.87" fill="#fff" stroke="#151515" stroke-width="1.1"/>
<path d="M737.21,386.90 L738.91,396.76 Q740.90,400.26 742.89,396.76 L742.18,386.29" fill="#fff" stroke="#151515" stroke-width="1.1"/>
<path d="M712.26,388.88 L713.47,397.68 Q715.81,401.18 718.15,397.68 L718.10,388.56" fill="#fff" stroke="#151515" stroke-width="1.1"/>
<path d="M600.00,366.00 L600.00,375.00 L597.00,396.00" fill="none" stroke="#151515" stroke-width="1.3" stroke-linejoin="round"/>
<path d="M776.00,366.00 L776.00,375.00 L779.00,396.00" fill="none" stroke="#151515" stroke-width="1.3" stroke-linejoin="round"/>
<path d="M816.40,582.00 L816.32,583.06 L816.09,584.13 L815.71,585.19 L815.17,586.24 L814.48,587.30 L813.64,588.34 L812.65,589.38 L811.50,590.41 L810.21,591.43 L808.78,592.43 L807.20,593.43 L805.47,594.41 L803.61,595.37 L801.60,596.32 L799.47,597.25 L797.19,598.16 L794.79,599.06 L792.26,599.93 L789.60,600.78 L786.83,601.61 L783.93,602.41 L780.92,603.19 L777.80,603.94 L774.58,604.67 L771.25,605.36 L767.82,606.03 L764.30,606.68 L760.68,607.29 L756.98,607.87 L753.20,608.41 L749.34,608.93 L745.41,609.41 L741.41,609.86 L737.35,610.28 L733.23,610.66 L729.06,611.01 L724.84,611.32 L720.58,611.59 L716.28,611.83 L711.95,612.04 L707.59,612.20 L703.21,612.33 L698.82,612.43 L694.41,612.48 L690.00,612.50 L685.59,612.48 L681.18,612.43 L676.79,612.33 L672.41,612.20 L668.05,612.04 L663.72,611.83 L659.42,611.59 L655.16,611.32 L650.94,611.01 L646.77,610.66 L642.65,610.28 L638.59,609.86 L634.59,609.41 L630.66,608.93 L626.80,608.41 L623.02,607.87 L619.32,607.29 L615.70,606.68 L612.18,606.03 L608.75,605.36 L605.42,604.67 L602.20,603.94 L599.08,603.19 L596.07,602.41 L593.17,601.61 L590.40,600.78 L587.74,599.93 L585.21,599.06 L582.81,598.16 L580.53,597.25 L578.40,596.32 L576.39,595.37 L574.53,594.41 L572.80,593.43 L571.22,592.43 L569.79,591.43 L568.50,590.41 L567.35,589.38 L566.36,588.34 L565.52,587.30 L564.83,586.24 L564.29,585.19 L563.91,584.13 L563.68,583.06 L563.60,582.00 L563.68,580.94 L563.91,579.87 L564.29,578.81 L564.83,577.76 L565.52,576.70 L566.36,575.66 L567.35,574.62 L568.50,573.59 L569.79,572.57 L571.22,571.57 L572.80,570.57 L574.53,569.59 L576.39,568.63 L578.40,567.68 L580.53,566.75 L582.81,565.84 L585.21,564.94 L587.74,564.07 L590.40,563.22 L593.17,562.39 L596.07,561.59 L599.08,560.81 L602.20,560.06 L605.42,559.33 L608.75,558.64 L612.18,557.97 L615.70,557.32 L619.32,556.71 L623.02,556.13 L626.80,555.59 L630.66,555.07 L634.59,554.59 L638.59,554.14 L642.65,553.72 L646.77,553.34 L650.94,552.99 L655.16,552.68 L659.42,552.41 L663.72,552.17 L668.05,551.96 L672.41,551.80 L676.79,551.67 L681.18,551.57 L685.59,551.52 L690.00,551.50 L694.41,551.52 L698.82,551.57 L703.21,551.67 L707.59,551.80 L711.95,551.96 L716.28,552.17 L720.58,552.41 L724.84,552.68 L729.06,552.99 L733.23,553.34 L737.35,553.72 L741.41,554.14 L745.41,554.59 L749.34,555.07 L753.20,555.59 L756.98,556.13 L760.68,556.71 L764.30,557.32 L767.82,557.97 L771.25,558.64 L774.58,559.33 L777.80,560.06 L780.92,560.81 L783.93,561.59 L786.83,562.39 L789.60,563.22 L792.26,564.07 L794.79,564.94 L797.19,565.84 L799.47,566.75 L801.60,567.68 L803.61,568.63 L805.47,569.59 L807.20,570.57 L808.78,571.57 L810.21,572.57 L811.50,573.59 L812.65,574.62 L813.64,575.66 L814.48,576.70 L815.17,577.76 L815.71,578.81 L816.09,579.87 L816.32,580.94 L816.40,582.00" fill="#fff" stroke="#151515" stroke-width="1.3" />
<ellipse cx="632" cy="567.4" rx="12.7" ry="4.2" fill="none" stroke="#151515" stroke-width="1.2"/>
<path d="M620.00,566.50 C622.00,566.30 628.00,565.30 632.00,565.30 C636.00,565.30 642.00,566.30 644.00,566.50" fill="none" stroke="#151515" stroke-width="0.9" stroke-linejoin="round"/>
<path d="M645.60,564.80 L653.30,560.10 L668.80,556.30 L687.40,554.70 L702.90,554.70 L721.50,557.00 L729.20,556.30 L735.00,560.00 L735.00,590.00 L643.30,590.00 Z" fill="#fff" stroke="none"/>
<path d="M645.60,564.80 C646.88,564.02 649.43,561.52 653.30,560.10 C657.17,558.68 663.12,557.20 668.80,556.30 C674.48,555.40 681.72,554.97 687.40,554.70 C693.08,554.43 697.22,554.40 702.90,554.70 C708.58,555.00 717.12,556.03 721.50,556.50 C725.88,556.97 727.28,556.75 729.20,557.50 C731.12,558.25 732.37,560.42 733.00,561.00" fill="none" stroke="#151515" stroke-width="1.3" stroke-linejoin="round"/>
<path d="M647.00,566.50 C648.33,565.72 651.17,563.22 655.00,561.80 C658.83,560.38 664.60,558.87 670.00,558.00 C675.40,557.13 681.57,556.77 687.40,556.60 C693.23,556.43 699.23,556.60 705.00,557.00 C710.77,557.40 719.17,558.67 722.00,559.00" fill="none" stroke="#151515" stroke-width="1.1" stroke-linejoin="round"/>
<path d="M648.70,569.40 C649.98,568.37 652.53,564.88 656.40,563.20 C660.27,561.52 666.30,560.08 671.90,559.30 C677.50,558.52 683.65,558.47 690.00,558.50 C696.35,558.53 704.75,558.97 710.00,559.50 C715.25,560.03 719.58,561.33 721.50,561.70" fill="none" stroke="#151515" stroke-width="1.1" stroke-linejoin="round"/>
<path d="M645.60,564.80 C645.22,565.83 643.68,568.17 643.30,571.00 C642.92,573.83 642.65,579.48 643.30,581.80 C643.95,584.12 645.75,584.20 647.20,584.90 C648.65,585.60 651.20,585.82 652.00,586.00" fill="none" stroke="#151515" stroke-width="1.2" stroke-linejoin="round"/>
<path d="M650.00,570.50 L651.00,573.00" fill="none" stroke="#151515" stroke-width="1.0" stroke-linejoin="round"/>
<path d="M655.76,601.19 L655.46,601.18 L655.17,601.17 L654.88,601.16 L654.59,601.14 L654.30,601.12 L654.01,601.10 L653.73,601.07 L653.45,601.04 L653.18,601.01 L652.91,600.98 L652.64,600.94 L652.38,600.90 L652.12,600.86 L651.87,600.81 L651.62,600.77 L651.38,600.72 L651.15,600.67 L650.92,600.61 L650.70,600.56 L650.49,600.50 L650.28,600.44 L650.08,600.37 L649.89,600.31 L649.71,600.24 L649.54,600.18 L649.37,600.11 L649.21,600.04 L649.07,599.96 L648.93,599.89 L648.80,599.81 L648.68,599.74 L648.56,599.66 L648.46,599.58 L648.37,599.50 L648.29,599.42 L648.22,599.34 L648.16,599.26 L648.10,599.18 L648.06,599.09 L648.03,599.01 L648.01,598.93 L648.00,598.84 L648.00,598.76 L648.01,598.67 L648.03,598.59 L648.06,598.51 L648.10,598.42 L648.16,598.34 L648.22,598.26 L648.29,598.18 L648.37,598.10 L648.46,598.02 L648.56,597.94 L648.68,597.86 L648.80,597.79 L648.93,597.71 L649.07,597.64 L649.21,597.56 L649.37,597.49 L649.54,597.42 L649.71,597.36 L649.89,597.29 L650.08,597.23 L650.28,597.16 L650.49,597.10 L650.70,597.04 L650.92,596.99 L651.15,596.93 L651.38,596.88 L651.62,596.83 L651.87,596.79 L652.12,596.74 L652.38,596.70 L652.64,596.66 L652.91,596.62 L653.18,596.59 L653.45,596.56 L653.73,596.53 L654.01,596.50 L654.30,596.48 L654.59,596.46 L654.88,596.44 L655.17,596.43 L655.46,596.42 L655.76,596.41" fill="none" stroke="#151515" stroke-width="1.2" />
<ellipse cx="678" cy="555.5" rx="10" ry="2.2" fill="#fff" stroke="#151515" stroke-width="1.1"/>
<path d="M676.5,508 L676.5,514 L673.8,528 L673.8,541.7 L671,541.7 L671,545 L669,545 L669,556 L687,556 L687,545 L685,545 L685,541.7 L683.2,541.7 L683.2,528 L680.5,514 L680.5,508 Z" fill="#fff" stroke="#151515" stroke-width="1.2" stroke-linejoin="round"/>
<path d="M673.80,528.80 L683.20,528.80" fill="none" stroke="#151515" stroke-width="1.0" stroke-linejoin="round"/>
<path d="M676.30,514.50 L680.70,514.50" fill="none" stroke="#151515" stroke-width="1.0" stroke-linejoin="round"/>
<path d="M671.00,545.00 L687.00,545.00" fill="none" stroke="#151515" stroke-width="1.0" stroke-linejoin="round"/>
<path d="M669.00,549.00 L687.00,549.00" fill="none" stroke="#151515" stroke-width="1.0" stroke-linejoin="round"/>
<path d="M702.7,524 L702.7,545.5 L701,556.5 Q713,559.5 724.7,556.5 L723.1,545.5 L723.1,524 Z" fill="#fff" stroke="#151515" stroke-width="1.3"/>
<path d="M702.70,545.50 C704.42,545.72 709.60,546.80 713.00,546.80 C716.40,546.80 721.42,545.72 723.10,545.50" fill="none" stroke="#151515" stroke-width="1.1" stroke-linejoin="round"/>
<ellipse cx="712.9" cy="523.6" rx="10.2" ry="2.6" fill="#fff" stroke="#151515" stroke-width="1.3"/>
<path d="M702.70,524.60 C704.42,524.92 709.60,526.50 713.00,526.50 C716.40,526.50 721.42,524.92 723.10,524.60" fill="none" stroke="#151515" stroke-width="1.0" stroke-linejoin="round"/>
<path d="M709.50,522.00 L713.00,516.80 L716.50,522.00" fill="#fff" stroke="#151515" stroke-width="1.1" stroke-linejoin="round"/>
<line x1="228.60" y1="22.1" x2="228.71" y2="59" stroke="#151515" stroke-width="4.6" stroke-dasharray="9.8 5.8"/>
<line x1="228.88" y1="115.9" x2="229.04" y2="168.5" stroke="#151515" stroke-width="4.6" stroke-dasharray="9.8 5.8"/>
<line x1="229.21" y1="223.5" x2="229.22" y2="227.5" stroke="#151515" stroke-width="4.6" stroke-dasharray="9.8 5.8"/>
<line x1="229.39" y1="285" x2="229.64" y2="366.5" stroke="#151515" stroke-width="4.6" stroke-dasharray="9.8 5.8"/>
<line x1="230.01" y1="490.1" x2="230.08" y2="512.5" stroke="#151515" stroke-width="4.6" stroke-dasharray="9.8 5.8"/>
<line x1="270.20" y1="22.1" x2="270.31" y2="58.5" stroke="#151515" stroke-width="4.6" stroke-dasharray="9.8 5.8"/>
<line x1="270.48" y1="116" x2="270.64" y2="168.5" stroke="#151515" stroke-width="4.6" stroke-dasharray="9.8 5.8"/>
<line x1="270.81" y1="223.5" x2="270.82" y2="227.5" stroke="#151515" stroke-width="4.6" stroke-dasharray="9.8 5.8"/>
<line x1="270.99" y1="285" x2="271.66" y2="505.5" stroke="#151515" stroke-width="4.6" stroke-dasharray="9.8 5.8"/>
<line x1="296.50" y1="22.1" x2="297.21" y2="219" stroke="#151515" stroke-width="4.6" stroke-dasharray="9.8 5.8"/>
<line x1="297.45" y1="283.8" x2="297.81" y2="383.7" stroke="#151515" stroke-width="4.6" stroke-dasharray="9.8 5.8"/>
<line x1="298.19" y1="489.5" x2="298.28" y2="514.4" stroke="#151515" stroke-width="4.6" stroke-dasharray="9.8 5.8"/>
<line x1="315.50" y1="22.1" x2="316.17" y2="219" stroke="#151515" stroke-width="4.6" stroke-dasharray="9.8 5.8"/>
<line x1="316.39" y1="282.4" x2="316.74" y2="385.7" stroke="#151515" stroke-width="4.6" stroke-dasharray="9.8 5.8"/>
<line x1="316.76" y1="392.2" x2="316.85" y2="417" stroke="#151515" stroke-width="4.6" stroke-dasharray="9.8 5.8"/>
<line x1="317.09" y1="488.1" x2="317.23" y2="529.5" stroke="#151515" stroke-width="4.6" stroke-dasharray="9.8 5.8"/>
<line x1="317.25" y1="534.7" x2="317.27" y2="540.7" stroke="#151515" stroke-width="4.6" stroke-dasharray="9.8 5.8"/>
<line x1="684.70" y1="21.9" x2="682.58" y2="189.5" stroke="#151515" stroke-width="4.6" stroke-dasharray="9.8 5.8"/>
<line x1="681.98" y1="236.7" x2="680.55" y2="350.3" stroke="#151515" stroke-width="4.6" stroke-dasharray="9.8 5.8"/>
<line x1="679.17" y1="459.1" x2="678.52" y2="510.7" stroke="#151515" stroke-width="4.6" stroke-dasharray="9.8 5.8"/>
<line x1="719.40" y1="21.9" x2="717.30" y2="190.5" stroke="#151515" stroke-width="4.6" stroke-dasharray="9.8 5.8"/>
<line x1="716.73" y1="236.7" x2="715.28" y2="352.8" stroke="#151515" stroke-width="4.6" stroke-dasharray="9.8 5.8"/>
<line x1="713.97" y1="458.4" x2="713.26" y2="515" stroke="#151515" stroke-width="4.6" stroke-dasharray="9.8 5.8"/>
<path d="M652,637 L652,575 Q652,563.5 664,563.5 L840,563.5 L840,637 Z" fill="#fff"/>
<path d="M687.2,582.6 L687.8,576.2 Q688,575 689.3,575.1 L698.3,576.2 Q699.6,576.4 699.5,577.6 L699,584" fill="none" stroke="#4d7cc4" stroke-width="2.8" stroke-linejoin="round"/>
<path d="M677.5,579.3 L707.3,583.3 Q709,583.6 708.8,585.3 L706.4,615.8 Q706.2,617.6 704.4,617.4 L670,612.6 Q668.2,612.3 668.5,610.5 L675.2,580.8 Q675.6,579.1 677.5,579.3 Z" fill="#4d7cc4"/>
<path d="M672,580.6 L674.8,580.4 L666.9,608.5 L663.7,608.7 Z" fill="#4d7cc4" stroke="#4d7cc4" stroke-width="0.8" stroke-linejoin="round"/>
<circle cx="690.4" cy="598.4" r="13.3" fill="#fff"/>
<circle cx="701.00" cy="598.40" r="0.75" fill="#4d7cc4"/>
<circle cx="699.58" cy="603.70" r="0.75" fill="#4d7cc4"/>
<circle cx="695.70" cy="607.58" r="0.75" fill="#4d7cc4"/>
<circle cx="690.40" cy="609.00" r="0.75" fill="#4d7cc4"/>
<circle cx="685.10" cy="607.58" r="0.75" fill="#4d7cc4"/>
<circle cx="681.22" cy="603.70" r="0.75" fill="#4d7cc4"/>
<circle cx="679.80" cy="598.40" r="0.75" fill="#4d7cc4"/>
<circle cx="681.22" cy="593.10" r="0.75" fill="#4d7cc4"/>
<circle cx="685.10" cy="589.22" r="0.75" fill="#4d7cc4"/>
<circle cx="690.40" cy="587.80" r="0.75" fill="#4d7cc4"/>
<circle cx="695.70" cy="589.22" r="0.75" fill="#4d7cc4"/>
<circle cx="699.58" cy="593.10" r="0.75" fill="#4d7cc4"/>
<path d="M686.2,593 L689.9,598.6 L697.8,594.3" fill="none" stroke="#4d7cc4" stroke-width="2" stroke-linecap="round" stroke-linejoin="round"/>
<path d="M688.5,611.2 Q700.5,610.5 706.8,602.5" fill="none" stroke="#4d7cc4" stroke-width="2.6" stroke-linecap="round"/>
<path d="M705.6,601.6 L711.3,596.6 L712,605.6 Z" fill="#4d7cc4" stroke="#4d7cc4" stroke-width="0.6" stroke-linejoin="round"/>
<text x="714.6" y="604.6" font-family="Liberation Sans, sans-serif" font-weight="bold" font-size="24" fill="#5585c9">TimeShop</text>
</svg>
</body></html>
